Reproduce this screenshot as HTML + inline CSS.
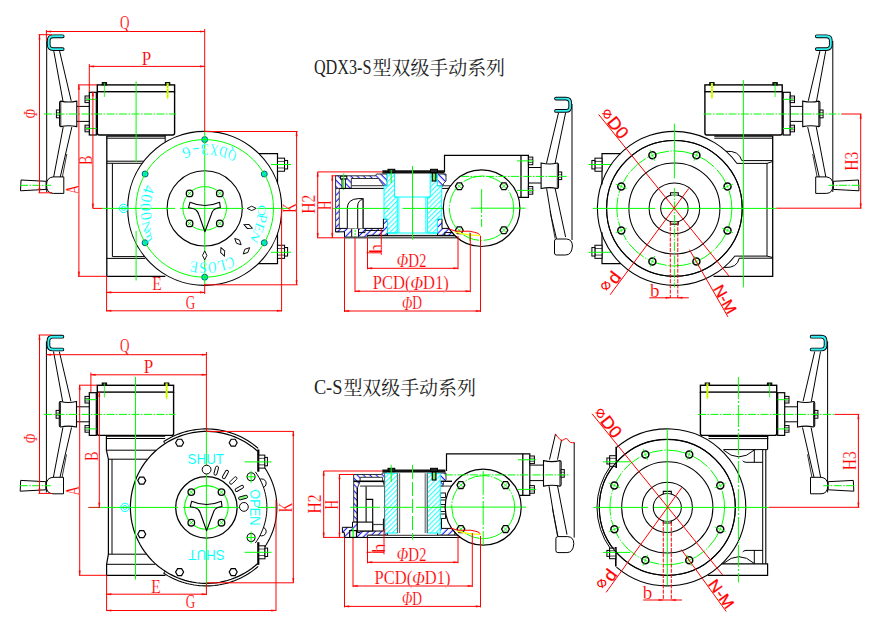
<!DOCTYPE html>
<html lang="zh"><head><meta charset="utf-8"><title>QDX3-S / C-S 型双级手动系列</title>
<style>html,body{margin:0;padding:0;background:#fff}svg{display:block}text{white-space:pre}</style></head>
<body><svg width="873" height="622" viewBox="0 0 873 622" fill="none" stroke-linecap="butt">
<rect x="0" y="0" width="873" height="622" fill="#fff"/>
<defs><pattern id="hb" width="4.5" height="8" patternUnits="userSpaceOnUse" patternTransform="rotate(45)"><rect width="4.5" height="8" fill="#fff"/><line x1="2.1" y1="-1" x2="2.1" y2="9" stroke="#0000ff" stroke-width="1"/></pattern><pattern id="hb2" width="4.5" height="8" patternUnits="userSpaceOnUse" patternTransform="rotate(-45)"><rect width="4.5" height="8" fill="#fff"/><line x1="2.1" y1="-1" x2="2.1" y2="9" stroke="#0000ff" stroke-width="1"/></pattern><pattern id="hc" width="3.4" height="8" patternUnits="userSpaceOnUse" patternTransform="rotate(45)"><rect width="3.4" height="8" fill="#fff"/><line x1="1.45" y1="-1" x2="1.45" y2="9" stroke="#00ffff" stroke-width="0.9"/></pattern></defs>
<polyline points="106.8,136.1 106.8,276.3 165.4,276.3" stroke="#000000" stroke-width="1.3" fill="none"/>
<line x1="106.8" y1="136.1" x2="165.2" y2="136.1" stroke="#000000" stroke-width="1.2"/>
<line x1="106.8" y1="138.2" x2="165.2" y2="138.2" stroke="#000000" stroke-width="1"/>
<line x1="165.2" y1="135" x2="165.2" y2="142" stroke="#000000" stroke-width="1"/>
<line x1="106.8" y1="161.2" x2="145" y2="161.2" stroke="#000000" stroke-width="1"/>
<line x1="106.8" y1="163.3" x2="143" y2="163.3" stroke="#000000" stroke-width="1"/>
<line x1="112.4" y1="163.3" x2="112.4" y2="256.6" stroke="#000000" stroke-width="1"/>
<line x1="112.4" y1="256.6" x2="144" y2="256.6" stroke="#000000" stroke-width="1"/>
<line x1="106.8" y1="258.4" x2="145" y2="258.4" stroke="#000000" stroke-width="1"/>
<polyline points="258,153.6 277.5,153.6 277.5,263.7 258,263.7" stroke="#000000" stroke-width="1.2" fill="none"/>
<rect x="277.5" y="158.15" width="7.07" height="13.1" rx="0" stroke="#000000" stroke-width="1" fill="#fff"/>
<rect x="284.57" y="160.45" width="3.03" height="8.5" rx="0" stroke="#000000" stroke-width="1" fill="#fff"/>
<line x1="277.5" y1="161.42" x2="284.57" y2="161.42" stroke="#000000" stroke-width="0.7"/>
<line x1="277.5" y1="167.97" x2="284.57" y2="167.97" stroke="#000000" stroke-width="0.7"/>
<rect x="277.5" y="245.25" width="7.07" height="13.1" rx="0" stroke="#000000" stroke-width="1" fill="#fff"/>
<rect x="284.57" y="247.55" width="3.03" height="8.5" rx="0" stroke="#000000" stroke-width="1" fill="#fff"/>
<line x1="277.5" y1="248.53" x2="284.57" y2="248.53" stroke="#000000" stroke-width="0.7"/>
<line x1="277.5" y1="255.08" x2="284.57" y2="255.08" stroke="#000000" stroke-width="0.7"/>
<line x1="271" y1="164.5" x2="291" y2="164.5" stroke="#00ff00" stroke-width="1"/>
<line x1="271" y1="252.3" x2="291" y2="252.3" stroke="#00ff00" stroke-width="1"/>
<line x1="46.7" y1="41" x2="46.7" y2="192" stroke="#000000" stroke-width="1"/>
<polyline points="53.8,51.1 63,101.3" stroke="#000000" stroke-width="1" fill="none"/>
<polyline points="59.6,51.1 71.2,100.8" stroke="#000000" stroke-width="1" fill="none"/>
<polyline points="63.2,127.1 53.6,177.3" stroke="#000000" stroke-width="1" fill="none"/>
<polyline points="71.8,127.1 60.2,177.3" stroke="#000000" stroke-width="1" fill="none"/>
<polyline points="66.8,154 62.3,177.3" stroke="#000000" stroke-width="0.8" fill="none"/>
<path d="M62.7,36.3 H53 Q48.7,36.3 48.7,40.8 V44.6 Q48.7,49.1 53,49.1 H62.7" stroke="#000000" stroke-width="3.7" fill="none" stroke-linecap="round"/>
<path d="M62.7,36.3 H53 Q48.7,36.3 48.7,40.8 V44.6 Q48.7,49.1 53,49.1 H62.7" stroke="#35f0f5" stroke-width="1.9" fill="none" stroke-linecap="round"/>
<path d="M59.6,102.5 Q59.6,101.3 60.8,101.1 Q68.3,103 76.8,101.1 V126.6 Q68.3,124.8 60.8,126.6 Q59.6,126.4 59.6,125.2 Z" stroke="#000000" stroke-width="1.1" fill="#fff"/>
<line x1="60.8" y1="102" x2="60.8" y2="126" stroke="#000000" stroke-width="0.8"/>
<rect x="56.4" y="110" width="3.2" height="7.8" rx="0" stroke="#000000" stroke-width="1" fill="#fff"/>
<line x1="56.4" y1="112.7" x2="59.6" y2="112.7" stroke="#000000" stroke-width="0.6"/>
<line x1="56.4" y1="115.3" x2="59.6" y2="115.3" stroke="#000000" stroke-width="0.6"/>
<line x1="76.8" y1="106.4" x2="89.3" y2="106.4" stroke="#000000" stroke-width="1"/>
<line x1="76.8" y1="121.4" x2="89.3" y2="121.4" stroke="#000000" stroke-width="1"/>
<path d="M63.8,176.9 H53.3 Q46.5,177.5 46.5,185 Q46.5,193.4 53.3,193.4 H63.8 Z" stroke="#000000" stroke-width="1" fill="#fff"/>
<polygon points="46.1,181.3 21,180 20.5,190.8 46.1,189.4" stroke="#000000" stroke-width="1" fill="#fff"/>
<line x1="20" y1="185.3" x2="51" y2="185.3" stroke="#00ff00" stroke-width="1" stroke-dasharray="8 1.5 1.5 1.5"/>
<rect x="89.3" y="92.3" width="7" height="42.7" rx="0" stroke="#000000" stroke-width="1.2" fill="#fff"/>
<rect x="85" y="96" width="4.3" height="6.6" rx="0" stroke="#000000" stroke-width="1" fill="#fff"/>
<line x1="85" y1="98" x2="89.3" y2="98" stroke="#000000" stroke-width="0.6"/>
<line x1="85" y1="100.6" x2="89.3" y2="100.6" stroke="#000000" stroke-width="0.6"/>
<line x1="86" y1="99.3" x2="100" y2="99.3" stroke="#00ff00" stroke-width="1"/>
<rect x="85" y="125.2" width="4.3" height="6.6" rx="0" stroke="#000000" stroke-width="1" fill="#fff"/>
<line x1="85" y1="127.2" x2="89.3" y2="127.2" stroke="#000000" stroke-width="0.6"/>
<line x1="85" y1="129.8" x2="89.3" y2="129.8" stroke="#000000" stroke-width="0.6"/>
<line x1="86" y1="128.5" x2="100" y2="128.5" stroke="#00ff00" stroke-width="1"/>
<path d="M97.3,91.7 V133 Q97.3,135 99.3,135 H172.6 Q174.6,135 174.6,133 V91.7" stroke="#000000" stroke-width="1.4" fill="#fff"/>
<rect x="97.3" y="84.9" width="77.3" height="6.8" rx="0" stroke="#000000" stroke-width="1.4" fill="#fff"/>
<rect x="102.2" y="82.6" width="4.4" height="2.3" rx="0" stroke="#000000" stroke-width="1" fill="#333"/>
<line x1="104.4" y1="83" x2="104.4" y2="97" stroke="#00ff00" stroke-width="0.8"/>
<rect x="165.4" y="82.6" width="4.4" height="2.3" rx="0" stroke="#000000" stroke-width="1" fill="#333"/>
<line x1="167.6" y1="83" x2="167.6" y2="97" stroke="#00ff00" stroke-width="0.8"/>
<line x1="167.6" y1="83" x2="167.6" y2="98" stroke="#ffff00" stroke-width="2"/>
<line x1="167.6" y1="83" x2="167.6" y2="99" stroke="#00ff00" stroke-width="0.5" stroke-dasharray="2 1"/>
<line x1="44" y1="114" x2="176" y2="114" stroke="#00ff00" stroke-width="1" stroke-dasharray="8 1.5 1.5 1.5"/>
<circle cx="204.7" cy="208.4" r="77" stroke="#000000" stroke-width="1.15" fill="#fff"/>
<line x1="136.1" y1="81.3" x2="136.1" y2="162" stroke="#00ff00" stroke-width="1"/>
<line x1="136.1" y1="231" x2="136.1" y2="280.5" stroke="#00ff00" stroke-width="1"/>
<circle cx="204.7" cy="139.6" r="3" stroke="#055" stroke-width="0.9" fill="#00e8f0"/>
<circle cx="264.28" cy="174" r="3" stroke="#055" stroke-width="0.9" fill="#00e8f0"/>
<circle cx="264.28" cy="242.8" r="3" stroke="#055" stroke-width="0.9" fill="#00e8f0"/>
<circle cx="204.7" cy="277.2" r="3" stroke="#055" stroke-width="0.9" fill="#00e8f0"/>
<circle cx="145.12" cy="242.8" r="3" stroke="#055" stroke-width="0.9" fill="#00e8f0"/>
<circle cx="145.12" cy="174" r="3" stroke="#055" stroke-width="0.9" fill="#00e8f0"/>
<circle cx="204.7" cy="208.4" r="68.8" stroke="#00ff00" stroke-width="1" fill="none"/>
<circle cx="204.7" cy="208.4" r="37.6" stroke="#000000" stroke-width="1.1" fill="none"/>
<circle cx="204.7" cy="208.4" r="21.8" stroke="#00ff00" stroke-width="1" fill="none"/>
<line x1="102.3" y1="208.4" x2="175" y2="208.4" stroke="#00ff00" stroke-width="1"/>
<line x1="180" y1="208.4" x2="244" y2="208.4" stroke="#00ff00" stroke-width="1"/>
<line x1="257" y1="208.4" x2="291" y2="208.4" stroke="#00ff00" stroke-width="1"/>
<line x1="204.7" y1="131.5" x2="204.7" y2="285" stroke="#00ff00" stroke-width="1"/>
<circle cx="189.6" cy="193.4" r="3.3" stroke="#000000" stroke-width="1.3" fill="#fff"/>
<line x1="187.6" y1="191.4" x2="191.6" y2="195.4" stroke="#00ff00" stroke-width="0.9"/>
<line x1="187.6" y1="195.4" x2="191.6" y2="191.4" stroke="#00ff00" stroke-width="0.9"/>
<circle cx="189.6" cy="223.4" r="3.3" stroke="#000000" stroke-width="1.3" fill="#fff"/>
<line x1="187.6" y1="221.4" x2="191.6" y2="225.4" stroke="#00ff00" stroke-width="0.9"/>
<line x1="187.6" y1="225.4" x2="191.6" y2="221.4" stroke="#00ff00" stroke-width="0.9"/>
<circle cx="219.8" cy="193.4" r="3.3" stroke="#000000" stroke-width="1.3" fill="#fff"/>
<line x1="217.8" y1="191.4" x2="221.8" y2="195.4" stroke="#00ff00" stroke-width="0.9"/>
<line x1="217.8" y1="195.4" x2="221.8" y2="191.4" stroke="#00ff00" stroke-width="0.9"/>
<circle cx="219.8" cy="223.4" r="3.3" stroke="#000000" stroke-width="1.3" fill="#fff"/>
<line x1="217.8" y1="221.4" x2="221.8" y2="225.4" stroke="#00ff00" stroke-width="0.9"/>
<line x1="217.8" y1="225.4" x2="221.8" y2="221.4" stroke="#00ff00" stroke-width="0.9"/>
<path d="M190,202.2 Q204.9,208.8 219.6,202.2 L220.3,207.5 Q214.5,208.5 213.2,210.5 Q212,212 211.3,214.5 L204.9,231.8 L198.8,214.5 Q198,212 196.5,210.5 Q195,208.8 188.5,207.8 Z" stroke="#000000" stroke-width="1.1" fill="none" stroke-linejoin="round"/>
<polygon points="-4.5,0 0,-2.2 4.5,0 0,2.2" transform="translate(251.7,208.4) rotate(0)" fill="#fff" stroke="#000" stroke-width="0.9"/>
<polygon points="-4.5,0 0,-2.2 4.5,0 0,2.2" transform="translate(248.12,226.39) rotate(22.5)" fill="#fff" stroke="#000" stroke-width="0.9"/>
<polygon points="-4.5,0 0,-2.2 4.5,0 0,2.2" transform="translate(237.93,241.63) rotate(45)" fill="#fff" stroke="#000" stroke-width="0.9"/>
<polygon points="-4.5,0 0,-2.2 4.5,0 0,2.2" transform="translate(222.69,251.82) rotate(67.5)" fill="#fff" stroke="#000" stroke-width="0.9"/>
<polygon points="-4.5,0 0,-2.2 4.5,0 0,2.2" transform="translate(204.7,255.4) rotate(90)" fill="#fff" stroke="#000" stroke-width="0.9"/>
<polygon points="-4.5,0 0,-2.2 4.5,0 0,2.2" transform="translate(246.4,250.84) rotate(135.5)" fill="#fff" stroke="#000" stroke-width="0.9"/>
<text font-family="'Liberation Serif','Noto Serif CJK SC',serif" font-size="16" fill="#00ffff" stroke="#fff" stroke-width="0.18"><tspan x="237.36" y="153.12" rotate="207" textLength="8" lengthAdjust="spacingAndGlyphs">Q</tspan><tspan x="228.31" y="148.69" rotate="198" textLength="8" lengthAdjust="spacingAndGlyphs">D</tspan><tspan x="218.68" y="145.73" rotate="189" textLength="8" lengthAdjust="spacingAndGlyphs">X</tspan><tspan x="208.7" y="144.32" rotate="180" textLength="8" lengthAdjust="spacingAndGlyphs">3</tspan><tspan x="198.63" y="144.48" rotate="171" textLength="8" lengthAdjust="spacingAndGlyphs">-</tspan><tspan x="188.7" y="146.22" rotate="162" textLength="8" lengthAdjust="spacingAndGlyphs">6</tspan></text>
<text font-family="'Liberation Serif','Noto Serif CJK SC',serif" font-size="16" fill="#00ffff" stroke="#fff" stroke-width="0.18"><tspan x="145.05" y="184.11" rotate="108.6" textLength="8" lengthAdjust="spacingAndGlyphs">4</tspan><tspan x="142.06" y="193.41" rotate="99.9" textLength="8" lengthAdjust="spacingAndGlyphs">0</tspan><tspan x="140.52" y="203.05" rotate="91.2" textLength="8" lengthAdjust="spacingAndGlyphs">0</tspan><tspan x="140.45" y="212.82" rotate="82.5" textLength="8" lengthAdjust="spacingAndGlyphs">0</tspan><tspan x="141.86" y="222.49" rotate="73.8" textLength="8" lengthAdjust="spacingAndGlyphs">N</tspan><tspan x="144.71" y="231.84" rotate="65.1" textLength="8" lengthAdjust="spacingAndGlyphs">m</tspan></text>
<text font-family="'Liberation Serif','Noto Serif CJK SC',serif" font-size="16" fill="#00ffff" stroke="#fff" stroke-width="0.18"><tspan x="257.95" y="204.77" rotate="90.4" textLength="8" lengthAdjust="spacingAndGlyphs">O</tspan><tspan x="257.86" y="213.15" rotate="99.4" textLength="8" lengthAdjust="spacingAndGlyphs">P</tspan><tspan x="256.46" y="221.4" rotate="108.4" textLength="8" lengthAdjust="spacingAndGlyphs">E</tspan><tspan x="253.79" y="229.34" rotate="117.4" textLength="8" lengthAdjust="spacingAndGlyphs">N</tspan></text>
<text font-family="'Liberation Serif','Noto Serif CJK SC',serif" font-size="16" fill="#00ffff" stroke="#fff" stroke-width="0.18"><tspan x="231.9" y="255.47" rotate="154.2" textLength="8" lengthAdjust="spacingAndGlyphs">C</tspan><tspan x="224.11" y="259.18" rotate="163.3" textLength="8" lengthAdjust="spacingAndGlyphs">L</tspan><tspan x="215.84" y="261.61" rotate="172.4" textLength="8" lengthAdjust="spacingAndGlyphs">O</tspan><tspan x="207.28" y="262.71" rotate="181.5" textLength="8" lengthAdjust="spacingAndGlyphs">S</tspan><tspan x="198.66" y="262.43" rotate="190.6" textLength="8" lengthAdjust="spacingAndGlyphs">E</tspan></text>
<circle cx="123.6" cy="208.4" r="4.2" stroke="#00ffff" stroke-width="1" fill="none"/>
<circle cx="123.6" cy="208.4" r="2" stroke="#00ffff" stroke-width="1" fill="none"/>
<line x1="120" y1="208.4" x2="128" y2="208.4" stroke="#00ff00" stroke-width="1"/>
<line x1="46.4" y1="31.5" x2="204.7" y2="31.5" stroke="#ff0000" stroke-width="1"/>
<polygon points="46.4,31.5 51,30.7 51,32.3" fill="#ff0000" stroke="#ff0000" stroke-width="0.3"/>
<polygon points="204.7,31.5 200.1,32.3 200.1,30.7" fill="#ff0000" stroke="#ff0000" stroke-width="0.3"/>
<line x1="204.7" y1="29" x2="204.7" y2="131.5" stroke="#ff0000" stroke-width="1"/>
<line x1="46.4" y1="30" x2="46.4" y2="41" stroke="#ff0000" stroke-width="1"/>
<text transform="translate(124.8,22.5) rotate(0)" x="-4.75" y="0" textLength="9.5" lengthAdjust="spacingAndGlyphs" font-family="'Liberation Serif','Noto Serif CJK SC',serif" font-size="18.5" fill="#ff0000" dominant-baseline="central" font-weight="normal" font-style="normal" stroke="#fff" stroke-width="0.18">Q</text>
<line x1="89.3" y1="66.4" x2="204.7" y2="66.4" stroke="#ff0000" stroke-width="1"/>
<polygon points="89.3,66.4 93.9,65.6 93.9,67.2" fill="#ff0000" stroke="#ff0000" stroke-width="0.3"/>
<polygon points="204.7,66.4 200.1,67.2 200.1,65.6" fill="#ff0000" stroke="#ff0000" stroke-width="0.3"/>
<line x1="89.3" y1="64" x2="89.3" y2="92" stroke="#ff0000" stroke-width="1"/>
<text transform="translate(146.5,58.5) rotate(0)" x="-4.75" y="0" textLength="9.5" lengthAdjust="spacingAndGlyphs" font-family="'Liberation Serif','Noto Serif CJK SC',serif" font-size="18.5" fill="#ff0000" dominant-baseline="central" font-weight="normal" font-style="normal" stroke="#fff" stroke-width="0.18">P</text>
<line x1="39.5" y1="34.7" x2="39.5" y2="192.8" stroke="#ff0000" stroke-width="1"/>
<polygon points="39.5,34.7 40.3,39.3 38.7,39.3" fill="#ff0000" stroke="#ff0000" stroke-width="0.3"/>
<polygon points="39.5,192.8 38.7,188.2 40.3,188.2" fill="#ff0000" stroke="#ff0000" stroke-width="0.3"/>
<line x1="38.5" y1="34.7" x2="52" y2="34.7" stroke="#ff0000" stroke-width="1"/>
<line x1="38.5" y1="192.8" x2="52" y2="192.8" stroke="#ff0000" stroke-width="1"/>
<text transform="translate(31,113.7) rotate(-90)" x="-4.75" y="0" textLength="9.5" lengthAdjust="spacingAndGlyphs" font-family="'Liberation Serif','Noto Serif CJK SC',serif" font-size="18.5" fill="#ff0000" dominant-baseline="central" font-weight="normal" font-style="italic" stroke="#fff" stroke-width="0.18">Φ</text>
<line x1="78.9" y1="84.9" x2="78.9" y2="276.3" stroke="#ff0000" stroke-width="1"/>
<polygon points="78.9,84.9 79.7,89.5 78.1,89.5" fill="#ff0000" stroke="#ff0000" stroke-width="0.3"/>
<polygon points="78.9,276.3 78.1,271.7 79.7,271.7" fill="#ff0000" stroke="#ff0000" stroke-width="0.3"/>
<line x1="78" y1="84.9" x2="97" y2="84.9" stroke="#ff0000" stroke-width="1"/>
<line x1="78" y1="276.3" x2="106.6" y2="276.3" stroke="#ff0000" stroke-width="1"/>
<text transform="translate(72.5,189.4) rotate(-90)" x="-4.75" y="0" textLength="9.5" lengthAdjust="spacingAndGlyphs" font-family="'Liberation Serif','Noto Serif CJK SC',serif" font-size="18.5" fill="#ff0000" dominant-baseline="central" font-weight="normal" font-style="normal" stroke="#fff" stroke-width="0.18">A</text>
<line x1="92.9" y1="91.7" x2="92.9" y2="208.4" stroke="#ff0000" stroke-width="1"/>
<polygon points="92.9,91.7 93.7,96.3 92.1,96.3" fill="#ff0000" stroke="#ff0000" stroke-width="0.3"/>
<polygon points="92.9,208.4 92.1,203.8 93.7,203.8" fill="#ff0000" stroke="#ff0000" stroke-width="0.3"/>
<line x1="92.9" y1="208.4" x2="102.3" y2="208.4" stroke="#ff0000" stroke-width="1"/>
<text transform="translate(85.5,160.2) rotate(-90)" x="-4.75" y="0" textLength="9.5" lengthAdjust="spacingAndGlyphs" font-family="'Liberation Serif','Noto Serif CJK SC',serif" font-size="18.5" fill="#ff0000" dominant-baseline="central" font-weight="normal" font-style="normal" stroke="#fff" stroke-width="0.18">B</text>
<line x1="106.6" y1="276.3" x2="106.6" y2="311.5" stroke="#ff0000" stroke-width="1"/>
<line x1="106.6" y1="292.4" x2="204.7" y2="292.4" stroke="#ff0000" stroke-width="1"/>
<polygon points="106.6,292.4 111.2,291.6 111.2,293.2" fill="#ff0000" stroke="#ff0000" stroke-width="0.3"/>
<polygon points="204.7,292.4 200.1,293.2 200.1,291.6" fill="#ff0000" stroke="#ff0000" stroke-width="0.3"/>
<line x1="204.7" y1="284" x2="204.7" y2="294" stroke="#ff0000" stroke-width="1"/>
<text transform="translate(157,284) rotate(0)" x="-4.75" y="0" textLength="9.5" lengthAdjust="spacingAndGlyphs" font-family="'Liberation Serif','Noto Serif CJK SC',serif" font-size="18.5" fill="#ff0000" dominant-baseline="central" font-weight="normal" font-style="normal" stroke="#fff" stroke-width="0.18">E</text>
<line x1="106.6" y1="310.8" x2="281.6" y2="310.8" stroke="#ff0000" stroke-width="1"/>
<polygon points="106.6,310.8 111.2,310 111.2,311.6" fill="#ff0000" stroke="#ff0000" stroke-width="0.3"/>
<polygon points="281.6,310.8 277,311.6 277,310" fill="#ff0000" stroke="#ff0000" stroke-width="0.3"/>
<line x1="281.6" y1="208" x2="281.6" y2="311.5" stroke="#ff0000" stroke-width="1"/>
<text transform="translate(190.5,302.5) rotate(0)" x="-4.75" y="0" textLength="9.5" lengthAdjust="spacingAndGlyphs" font-family="'Liberation Serif','Noto Serif CJK SC',serif" font-size="18.5" fill="#ff0000" dominant-baseline="central" font-weight="normal" font-style="normal" stroke="#fff" stroke-width="0.18">G</text>
<line x1="204.7" y1="131.5" x2="297.6" y2="131.5" stroke="#ff0000" stroke-width="1"/>
<line x1="296.6" y1="131.5" x2="296.6" y2="284.8" stroke="#ff0000" stroke-width="1"/>
<polygon points="296.6,131.5 297.4,136.1 295.8,136.1" fill="#ff0000" stroke="#ff0000" stroke-width="0.3"/>
<polygon points="296.6,284.8 295.8,280.2 297.4,280.2" fill="#ff0000" stroke="#ff0000" stroke-width="0.3"/>
<line x1="204.7" y1="284.8" x2="297.6" y2="284.8" stroke="#ff0000" stroke-width="1"/>
<text transform="translate(289.6,208) rotate(-90)" x="-4.75" y="0" textLength="9.5" lengthAdjust="spacingAndGlyphs" font-family="'Liberation Serif','Noto Serif CJK SC',serif" font-size="18.5" fill="#ff0000" dominant-baseline="central" font-weight="normal" font-style="normal" stroke="#fff" stroke-width="0.18">K</text>
<line x1="106.4" y1="436.1" x2="165.2" y2="436.1" stroke="#000000" stroke-width="1.3"/>
<line x1="106.4" y1="438.5" x2="165.2" y2="438.5" stroke="#000000" stroke-width="1"/>
<polyline points="106.4,436.1 106.4,450.2 108.4,459.2 108.4,554.2 106.6,564.3 106.6,575.3 165.4,575.3" stroke="#000000" stroke-width="1.2" fill="none"/>
<line x1="106.4" y1="450.2" x2="156" y2="450.2" stroke="#000000" stroke-width="1"/>
<line x1="108.4" y1="459.2" x2="147" y2="459.2" stroke="#000000" stroke-width="1"/>
<line x1="112" y1="459.2" x2="112" y2="554.2" stroke="#000000" stroke-width="1"/>
<line x1="108.4" y1="554.2" x2="147" y2="554.2" stroke="#000000" stroke-width="1"/>
<line x1="106.6" y1="564.3" x2="155" y2="564.3" stroke="#000000" stroke-width="1"/>
<line x1="46.4" y1="341.4" x2="46.4" y2="492.4" stroke="#000000" stroke-width="1"/>
<polyline points="53.5,351.5 62.7,401.7" stroke="#000000" stroke-width="1" fill="none"/>
<polyline points="59.3,351.5 70.9,401.2" stroke="#000000" stroke-width="1" fill="none"/>
<polyline points="62.9,427.5 53.3,477.7" stroke="#000000" stroke-width="1" fill="none"/>
<polyline points="71.5,427.5 59.9,477.7" stroke="#000000" stroke-width="1" fill="none"/>
<polyline points="66.5,454.4 62,477.7" stroke="#000000" stroke-width="0.8" fill="none"/>
<path d="M62.4,336.7 H52.7 Q48.4,336.7 48.4,341.2 V345 Q48.4,349.5 52.7,349.5 H62.4" stroke="#000000" stroke-width="3.7" fill="none" stroke-linecap="round"/>
<path d="M62.4,336.7 H52.7 Q48.4,336.7 48.4,341.2 V345 Q48.4,349.5 52.7,349.5 H62.4" stroke="#35f0f5" stroke-width="1.9" fill="none" stroke-linecap="round"/>
<path d="M59.3,402.9 Q59.3,401.7 60.5,401.5 Q68,403.4 76.5,401.5 V427 Q68,425.2 60.5,427 Q59.3,426.8 59.3,425.6 Z" stroke="#000000" stroke-width="1.1" fill="#fff"/>
<line x1="60.5" y1="402.4" x2="60.5" y2="426.4" stroke="#000000" stroke-width="0.8"/>
<rect x="56.1" y="410.4" width="3.2" height="7.8" rx="0" stroke="#000000" stroke-width="1" fill="#fff"/>
<line x1="56.1" y1="413.1" x2="59.3" y2="413.1" stroke="#000000" stroke-width="0.6"/>
<line x1="56.1" y1="415.7" x2="59.3" y2="415.7" stroke="#000000" stroke-width="0.6"/>
<line x1="76.5" y1="406.8" x2="89" y2="406.8" stroke="#000000" stroke-width="1"/>
<line x1="76.5" y1="421.8" x2="89" y2="421.8" stroke="#000000" stroke-width="1"/>
<path d="M63.5,477.3 H53 Q46.2,477.9 46.2,485.4 Q46.2,493.8 53,493.8 H63.5 Z" stroke="#000000" stroke-width="1" fill="#fff"/>
<polygon points="45.8,481.7 20.7,480.4 20.2,491.2 45.8,489.8" stroke="#000000" stroke-width="1" fill="#fff"/>
<line x1="19.7" y1="485.7" x2="50.7" y2="485.7" stroke="#00ff00" stroke-width="1" stroke-dasharray="8 1.5 1.5 1.5"/>
<g transform="translate(-1,0)">
</g>
<rect x="89.3" y="392.7" width="7" height="42.7" rx="0" stroke="#000000" stroke-width="1.2" fill="#fff"/>
<rect x="85" y="396.4" width="4.3" height="6.6" rx="0" stroke="#000000" stroke-width="1" fill="#fff"/>
<line x1="85" y1="398.4" x2="89.3" y2="398.4" stroke="#000000" stroke-width="0.6"/>
<line x1="85" y1="401" x2="89.3" y2="401" stroke="#000000" stroke-width="0.6"/>
<line x1="86" y1="399.7" x2="100" y2="399.7" stroke="#00ff00" stroke-width="1"/>
<rect x="85" y="425.6" width="4.3" height="6.6" rx="0" stroke="#000000" stroke-width="1" fill="#fff"/>
<line x1="85" y1="427.6" x2="89.3" y2="427.6" stroke="#000000" stroke-width="0.6"/>
<line x1="85" y1="430.2" x2="89.3" y2="430.2" stroke="#000000" stroke-width="0.6"/>
<line x1="86" y1="428.9" x2="100" y2="428.9" stroke="#00ff00" stroke-width="1"/>
<path d="M97.3,392.1 V433.4 Q97.3,435.4 99.3,435.4 H171.6 Q173.6,435.4 173.6,433.4 V392.1" stroke="#000000" stroke-width="1.4" fill="#fff"/>
<rect x="97.3" y="385.3" width="76.3" height="6.8" rx="0" stroke="#000000" stroke-width="1.4" fill="#fff"/>
<rect x="102.2" y="383" width="4.4" height="2.3" rx="0" stroke="#000000" stroke-width="1" fill="#333"/>
<line x1="104.4" y1="383.4" x2="104.4" y2="397.4" stroke="#00ff00" stroke-width="0.8"/>
<rect x="164.4" y="383" width="4.4" height="2.3" rx="0" stroke="#000000" stroke-width="1" fill="#333"/>
<line x1="166.6" y1="383.4" x2="166.6" y2="397.4" stroke="#00ff00" stroke-width="0.8"/>
<line x1="166.6" y1="383.4" x2="166.6" y2="398.4" stroke="#ffff00" stroke-width="2"/>
<line x1="166.6" y1="383.4" x2="166.6" y2="399.4" stroke="#00ff00" stroke-width="0.5" stroke-dasharray="2 1"/>
<line x1="44" y1="414.4" x2="175.5" y2="414.4" stroke="#00ff00" stroke-width="1" stroke-dasharray="8 1.5 1.5 1.5"/>
<polygon points="258.23,451.82 261.46,455.01 264.49,458.4 267.32,461.95 269.92,465.67 272.3,469.54 274.44,473.55 276.35,477.67 278,481.91 279.39,486.23 280.53,490.63 281.4,495.09 282,499.59 282.33,504.12 282.39,508.66 282.18,513.2 281.7,517.71 280.95,522.19 279.93,526.62 278.65,530.98 277.11,535.25 275.32,539.43 273.28,543.49 271.01,547.42 268.5,551.21 265.77,554.84 262.83,558.3 259.69,561.58 256.36,564.67 252.85,567.55 249.17,570.22 245.34,572.66 241.38,574.87 237.28,576.84 233.08,578.56 228.78,580.03 224.4,581.24 219.96,582.18 215.46,582.86 210.94,583.26 206.4,583.4 201.86,583.26 197.34,582.86 192.84,582.18 188.4,581.24 184.02,580.03 179.72,578.56 175.52,576.84 171.42,574.87 167.46,572.66 163.63,570.22 159.95,567.55 156.44,564.67 153.11,561.58 149.97,558.3 147.03,554.84 144.3,551.21 141.79,547.42 139.52,543.49 137.48,539.43 135.69,535.25 134.15,530.98 132.87,526.62 131.85,522.19 131.1,517.71 130.62,513.2 130.41,508.66 130.47,504.12 130.8,499.59 131.4,495.09 132.27,490.63 133.41,486.23 134.8,481.91 136.45,477.67 138.36,473.55 140.5,469.54 142.88,465.67 145.48,461.95 148.31,458.4 151.34,455.01 154.57,451.82" stroke="none" stroke-width="0" fill="#fff"/>
<polyline points="257.74,563.43 254.8,566 251.72,568.41 248.53,570.65 245.23,572.73 241.82,574.64 238.32,576.37 234.73,577.92 231.07,579.28 227.35,580.46 223.57,581.44 219.74,582.22 215.88,582.81 212,583.19 208.09,583.38 204.19,583.37 200.29,583.15 196.41,582.74 192.55,582.13 188.73,581.32 184.96,580.31 181.24,579.11 177.59,577.73 174.01,576.15 170.53,574.4 167.13,572.47 163.84,570.37 160.66,568.1 157.6,565.67 154.68,563.08 151.88,560.35 149.24,557.48 146.74,554.48 144.4,551.35 142.22,548.11 140.22,544.76 138.38,541.31 136.73,537.77 135.26,534.15 133.98,530.46 132.9,526.71 132,522.91 131.3,519.07 130.8,515.2 130.5,511.3 130.4,507.4 130.5,503.5 130.8,499.6 131.3,495.73 132,491.89 132.9,488.09 133.98,484.34 135.26,480.65 136.73,477.03 138.38,473.49 140.22,470.04 142.22,466.69 144.4,463.45 146.74,460.32 149.24,457.32 151.88,454.45 154.68,451.72 157.6,449.13 160.66,446.7 163.84,444.43 167.13,442.33 170.53,440.4 174.01,438.65 177.59,437.07 181.24,435.69 184.96,434.49 188.73,433.48 192.55,432.67 196.41,432.06 200.29,431.65 204.19,431.43 208.09,431.42 212,431.61 215.88,431.99 219.74,432.58 223.57,433.36 227.35,434.34 231.07,435.52 234.73,436.88 238.32,438.43 241.82,440.16 245.23,442.07 248.53,444.15 251.72,446.39 254.8,448.8 257.74,451.37" stroke="#000000" stroke-width="1.2" fill="none"/>
<polyline points="163.65,441.56 165.8,440.21 168,438.93 170.24,437.72 172.52,436.59 174.83,435.53 177.18,434.54 179.55,433.63 181.96,432.8 184.39,432.05 186.84,431.37 189.32,430.78 191.81,430.27 194.32,429.84 196.84,429.48 199.37,429.22 201.91,429.03 204.45,428.92 207,428.9 209.54,428.96 212.08,429.11 214.62,429.33 217.14,429.64 219.66,430.03 222.16,430.5 224.64,431.05 227.11,431.68 229.55,432.39 231.97,433.18 234.36,434.05 236.73,434.99 239.06,436.01 241.35,437.11 243.61,438.28 245.83,439.52 248.01,440.84 250.15,442.22 252.24,443.67 254.28,445.19 256.27,446.78 258.21,448.43" stroke="#000000" stroke-width="1.1" fill="none"/>
<polyline points="258.21,566.37 256.27,568.02 254.28,569.61 252.24,571.13 250.15,572.58 248.01,573.96 245.83,575.28 243.61,576.52 241.35,577.69 239.06,578.79 236.73,579.81 234.36,580.75 231.97,581.62 229.55,582.41 227.11,583.12 224.64,583.75 222.16,584.3 219.66,584.77 217.14,585.16 214.62,585.47 212.08,585.69 209.54,585.84 207,585.9 204.45,585.88 201.91,585.77 199.37,585.58 196.84,585.32 194.32,584.96 191.81,584.53 189.32,584.02 186.84,583.43 184.39,582.75 181.96,582 179.55,581.17 177.18,580.26 174.83,579.27 172.52,578.21 170.24,577.08 168,575.87 165.8,574.59 163.65,573.24" stroke="#000000" stroke-width="1.1" fill="none"/>
<polyline points="163.65,441.56 165.01,443.66" stroke="#000000" stroke-width="1" fill="none"/>
<polyline points="163.65,573.24 165.01,571.14" stroke="#000000" stroke-width="1" fill="none"/>
<line x1="258.3" y1="449.5" x2="258.3" y2="471.7" stroke="#000000" stroke-width="2.2"/>
<line x1="258.3" y1="542.2" x2="258.3" y2="564.8" stroke="#000000" stroke-width="2.2"/>
<rect x="258.8" y="455.1" width="6.02" height="13" rx="0" stroke="#000000" stroke-width="1" fill="#fff"/>
<rect x="264.82" y="457.4" width="2.58" height="8.4" rx="0" stroke="#000000" stroke-width="1" fill="#fff"/>
<line x1="258.8" y1="458.35" x2="264.82" y2="458.35" stroke="#000000" stroke-width="0.7"/>
<line x1="258.8" y1="464.85" x2="264.82" y2="464.85" stroke="#000000" stroke-width="0.7"/>
<rect x="258.8" y="545.8" width="6.16" height="13" rx="0" stroke="#000000" stroke-width="1" fill="#fff"/>
<rect x="264.96" y="548.1" width="2.64" height="8.4" rx="0" stroke="#000000" stroke-width="1" fill="#fff"/>
<line x1="258.8" y1="549.05" x2="264.96" y2="549.05" stroke="#000000" stroke-width="0.7"/>
<line x1="258.8" y1="555.55" x2="264.96" y2="555.55" stroke="#000000" stroke-width="0.7"/>
<line x1="244.5" y1="461.9" x2="271.5" y2="461.9" stroke="#00ff00" stroke-width="1"/>
<line x1="244.5" y1="552.3" x2="271.5" y2="552.3" stroke="#00ff00" stroke-width="1"/>
<polyline points="264.85,467.98 266.36,470.32 267.78,472.72 269.1,475.17 270.33,477.68 271.45,480.23 272.48,482.83 273.4,485.46 274.21,488.13 274.92,490.82 275.53,493.55 276.02,496.29 276.4,499.05 276.68,501.83 276.84,504.61 276.9,507.4 276.84,510.19 276.68,512.97 276.4,515.75 276.02,518.51 275.53,521.25 274.92,523.98 274.21,526.67 273.4,529.34 272.48,531.97 271.45,534.57 270.33,537.12 269.1,539.63 267.78,542.08 266.36,544.48 264.85,546.82" stroke="#000000" stroke-width="1.1" fill="none"/>
<polyline points="255.35,471.84 257.14,474.45 258.79,477.15 260.31,479.93 261.67,482.79 262.88,485.72 263.94,488.7 264.84,491.74 265.58,494.82 266.16,497.94 266.57,501.08 266.82,504.23 266.9,507.4 266.82,510.57 266.57,513.72 266.16,516.86 265.58,519.98 264.84,523.06 263.94,526.1 262.88,529.08 261.67,532.01 260.31,534.87 258.79,537.65 257.14,540.35 255.35,542.96" stroke="#000000" stroke-width="1" fill="none"/>
<path d="M259.97,479.28 A4.4,4.4 0 0 1 263.5,487.4" stroke="#000000" stroke-width="1" fill="none"/>
<path d="M263.5,527.4 A4.4,4.4 0 0 1 259.97,535.52" stroke="#000000" stroke-width="1" fill="none"/>
<line x1="135.5" y1="377" x2="135.5" y2="462" stroke="#00ff00" stroke-width="1"/>
<line x1="135.5" y1="462" x2="135.5" y2="579.5" stroke="#00ff00" stroke-width="1"/>
<polygon points="237.19,442.73 235.19,446.19 231.19,446.19 229.19,442.73 231.19,439.26 235.19,439.26" stroke="#000000" stroke-width="1.2" fill="#fff"/>
<polygon points="183.61,442.73 181.61,446.19 177.61,446.19 175.61,442.73 177.61,439.26 181.61,439.26" stroke="#000000" stroke-width="1.2" fill="#fff"/>
<polygon points="145.73,480.61 143.73,484.08 139.73,484.08 137.73,480.61 139.73,477.15 143.73,477.15" stroke="#000000" stroke-width="1.2" fill="#fff"/>
<polygon points="145.73,534.19 143.73,537.65 139.73,537.65 137.73,534.19 139.73,530.72 143.73,530.72" stroke="#000000" stroke-width="1.2" fill="#fff"/>
<polygon points="183.61,572.07 181.61,575.54 177.61,575.54 175.61,572.07 177.61,568.61 181.61,568.61" stroke="#000000" stroke-width="1.2" fill="#fff"/>
<polygon points="237.19,572.07 235.19,575.54 231.19,575.54 229.19,572.07 231.19,568.61 235.19,568.61" stroke="#000000" stroke-width="1.2" fill="#fff"/>
<circle cx="206.4" cy="507.4" r="30.7" stroke="#000000" stroke-width="1.3" fill="none"/>
<circle cx="206.4" cy="507.4" r="21.8" stroke="#00ff00" stroke-width="1.1" fill="none"/>
<line x1="100.3" y1="507.4" x2="178" y2="507.4" stroke="#00ff00" stroke-width="1"/>
<line x1="183" y1="507.4" x2="245" y2="507.4" stroke="#00ff00" stroke-width="1"/>
<line x1="258" y1="507.4" x2="276" y2="507.4" stroke="#00ff00" stroke-width="1"/>
<line x1="206.4" y1="429.5" x2="206.4" y2="589" stroke="#00ff00" stroke-width="1"/>
<line x1="206.4" y1="584" x2="206.4" y2="595" stroke="#ff0000" stroke-width="1"/>
<circle cx="191.3" cy="492.1" r="3.3" stroke="#000000" stroke-width="1.3" fill="#fff"/>
<line x1="189.3" y1="490.1" x2="193.3" y2="494.1" stroke="#00ff00" stroke-width="0.9"/>
<line x1="189.3" y1="494.1" x2="193.3" y2="490.1" stroke="#00ff00" stroke-width="0.9"/>
<circle cx="191.3" cy="522.7" r="3.3" stroke="#000000" stroke-width="1.3" fill="#fff"/>
<line x1="189.3" y1="520.7" x2="193.3" y2="524.7" stroke="#00ff00" stroke-width="0.9"/>
<line x1="189.3" y1="524.7" x2="193.3" y2="520.7" stroke="#00ff00" stroke-width="0.9"/>
<circle cx="221.5" cy="492.1" r="3.3" stroke="#000000" stroke-width="1.3" fill="#fff"/>
<line x1="219.5" y1="490.1" x2="223.5" y2="494.1" stroke="#00ff00" stroke-width="0.9"/>
<line x1="219.5" y1="494.1" x2="223.5" y2="490.1" stroke="#00ff00" stroke-width="0.9"/>
<circle cx="221.5" cy="522.7" r="3.3" stroke="#000000" stroke-width="1.3" fill="#fff"/>
<line x1="219.5" y1="520.7" x2="223.5" y2="524.7" stroke="#00ff00" stroke-width="0.9"/>
<line x1="219.5" y1="524.7" x2="223.5" y2="520.7" stroke="#00ff00" stroke-width="0.9"/>
<path d="M191.7,501.2 Q206.6,507.8 221.3,501.2 L222,506.5 Q216.2,507.5 214.9,509.5 Q213.7,511 213,513.5 L206.6,530.8 L200.5,513.5 Q199.7,511 198.2,509.5 Q196.7,507.8 190.2,506.8 Z" stroke="#000000" stroke-width="1.1" fill="none" stroke-linejoin="round"/>
<circle cx="206.6" cy="469.6" r="4.4" stroke="#000000" stroke-width="1" fill="#fff"/>
<circle cx="243.9" cy="506.9" r="4.4" stroke="#000000" stroke-width="1" fill="#fff"/>
<rect x="-1.5" y="-4.6" width="3" height="9.2" rx="1.5" transform="translate(216.24,470.69) rotate(15)" fill="#fff" stroke="#000" stroke-width="0.9"/>
<rect x="-1.5" y="-4.6" width="3" height="9.2" rx="1.5" transform="translate(225.4,474.49) rotate(30)" fill="#fff" stroke="#000" stroke-width="0.9"/>
<rect x="-1.5" y="-4.6" width="3" height="9.2" rx="1.5" transform="translate(233.27,480.53) rotate(45)" fill="#fff" stroke="#000" stroke-width="0.9"/>
<rect x="-1.5" y="-4.6" width="3" height="9.2" rx="1.5" transform="translate(239.31,488.4) rotate(60)" fill="#fff" stroke="#000" stroke-width="0.9"/>
<rect x="-1.5" y="-4.6" width="3" height="9.2" rx="1.5" transform="translate(243.11,497.56) rotate(75)" fill="#8f8" stroke="#000" stroke-width="0.9"/>
<circle cx="251.1" cy="476.8" r="4" stroke="#000000" stroke-width="1.1" fill="#fff"/>
<line x1="251.1" y1="470.8" x2="251.1" y2="482.8" stroke="#00ff00" stroke-width="1"/>
<line x1="246" y1="476.8" x2="256" y2="476.8" stroke="#00ff00" stroke-width="1"/>
<circle cx="251.1" cy="537.5" r="4" stroke="#000000" stroke-width="1.1" fill="#fff"/>
<line x1="251.1" y1="531.5" x2="251.1" y2="543.5" stroke="#00ff00" stroke-width="1"/>
<line x1="246" y1="537.5" x2="256" y2="537.5" stroke="#00ff00" stroke-width="1"/>
<text transform="translate(205.8,458) rotate(0)" x="-18.25" y="0" textLength="36.5" lengthAdjust="spacingAndGlyphs" font-family="'Liberation Sans','Noto Sans CJK SC',sans-serif" font-size="15" fill="#00ffff" dominant-baseline="central" font-weight="normal" font-style="normal" stroke="#fff" stroke-width="0.1">SHUT</text>
<text transform="translate(206.5,555.6) rotate(180)" x="-18.25" y="0" textLength="36.5" lengthAdjust="spacingAndGlyphs" font-family="'Liberation Sans','Noto Sans CJK SC',sans-serif" font-size="15" fill="#00ffff" dominant-baseline="central" font-weight="normal" font-style="normal" stroke="#fff" stroke-width="0.1">SHUT</text>
<text transform="translate(255.3,507.4) rotate(90)" x="-18.25" y="0" textLength="36.5" lengthAdjust="spacingAndGlyphs" font-family="'Liberation Sans','Noto Sans CJK SC',sans-serif" font-size="15" fill="#00ffff" dominant-baseline="central" font-weight="normal" font-style="normal" stroke="#fff" stroke-width="0.1">OPEN</text>
<circle cx="125" cy="507.4" r="4.2" stroke="#00ffff" stroke-width="1" fill="none"/>
<circle cx="125" cy="507.4" r="2" stroke="#00ffff" stroke-width="1" fill="none"/>
<line x1="121" y1="507.4" x2="129" y2="507.4" stroke="#00ff00" stroke-width="1"/>
<line x1="46.5" y1="354.7" x2="206.4" y2="354.7" stroke="#ff0000" stroke-width="1"/>
<polygon points="46.5,354.7 51.1,353.9 51.1,355.5" fill="#ff0000" stroke="#ff0000" stroke-width="0.3"/>
<polygon points="206.4,354.7 201.8,355.5 201.8,353.9" fill="#ff0000" stroke="#ff0000" stroke-width="0.3"/>
<line x1="206.4" y1="352" x2="206.4" y2="431.4" stroke="#ff0000" stroke-width="1"/>
<text transform="translate(124.8,345.5) rotate(0)" x="-4.75" y="0" textLength="9.5" lengthAdjust="spacingAndGlyphs" font-family="'Liberation Serif','Noto Serif CJK SC',serif" font-size="18.5" fill="#ff0000" dominant-baseline="central" font-weight="normal" font-style="normal" stroke="#fff" stroke-width="0.18">Q</text>
<line x1="90.9" y1="374.8" x2="206.4" y2="374.8" stroke="#ff0000" stroke-width="1"/>
<polygon points="90.9,374.8 95.5,374 95.5,375.6" fill="#ff0000" stroke="#ff0000" stroke-width="0.3"/>
<polygon points="206.4,374.8 201.8,375.6 201.8,374" fill="#ff0000" stroke="#ff0000" stroke-width="0.3"/>
<line x1="90.9" y1="372.5" x2="90.9" y2="392" stroke="#ff0000" stroke-width="1"/>
<text transform="translate(148.5,366.5) rotate(0)" x="-4.75" y="0" textLength="9.5" lengthAdjust="spacingAndGlyphs" font-family="'Liberation Serif','Noto Serif CJK SC',serif" font-size="18.5" fill="#ff0000" dominant-baseline="central" font-weight="normal" font-style="normal" stroke="#fff" stroke-width="0.18">P</text>
<line x1="39.5" y1="335" x2="39.5" y2="493.4" stroke="#ff0000" stroke-width="1"/>
<polygon points="39.5,335 40.3,339.6 38.7,339.6" fill="#ff0000" stroke="#ff0000" stroke-width="0.3"/>
<polygon points="39.5,493.4 38.7,488.8 40.3,488.8" fill="#ff0000" stroke="#ff0000" stroke-width="0.3"/>
<line x1="38.5" y1="335" x2="52" y2="335" stroke="#ff0000" stroke-width="1"/>
<line x1="38.5" y1="493.4" x2="52" y2="493.4" stroke="#ff0000" stroke-width="1"/>
<text transform="translate(31,438.6) rotate(-90)" x="-4.75" y="0" textLength="9.5" lengthAdjust="spacingAndGlyphs" font-family="'Liberation Serif','Noto Serif CJK SC',serif" font-size="18.5" fill="#ff0000" dominant-baseline="central" font-weight="normal" font-style="italic" stroke="#fff" stroke-width="0.18">Φ</text>
<line x1="79.7" y1="385.2" x2="79.7" y2="575.3" stroke="#ff0000" stroke-width="1"/>
<polygon points="79.7,385.2 80.5,389.8 78.9,389.8" fill="#ff0000" stroke="#ff0000" stroke-width="0.3"/>
<polygon points="79.7,575.3 78.9,570.7 80.5,570.7" fill="#ff0000" stroke="#ff0000" stroke-width="0.3"/>
<line x1="79" y1="385.2" x2="97" y2="385.2" stroke="#ff0000" stroke-width="1"/>
<line x1="79" y1="575.3" x2="106.6" y2="575.3" stroke="#ff0000" stroke-width="1"/>
<text transform="translate(73.2,490.8) rotate(-90)" x="-4.75" y="0" textLength="9.5" lengthAdjust="spacingAndGlyphs" font-family="'Liberation Serif','Noto Serif CJK SC',serif" font-size="18.5" fill="#ff0000" dominant-baseline="central" font-weight="normal" font-style="normal" stroke="#fff" stroke-width="0.18">A</text>
<line x1="99.3" y1="391.9" x2="99.3" y2="507.4" stroke="#ff0000" stroke-width="1"/>
<polygon points="99.3,391.9 100.1,396.5 98.5,396.5" fill="#ff0000" stroke="#ff0000" stroke-width="0.3"/>
<polygon points="99.3,507.4 98.5,502.8 100.1,502.8" fill="#ff0000" stroke="#ff0000" stroke-width="0.3"/>
<line x1="88.3" y1="507.4" x2="100.3" y2="507.4" stroke="#c02000" stroke-width="1"/>
<text transform="translate(91.5,456.2) rotate(-90)" x="-4.75" y="0" textLength="9.5" lengthAdjust="spacingAndGlyphs" font-family="'Liberation Serif','Noto Serif CJK SC',serif" font-size="18.5" fill="#ff0000" dominant-baseline="central" font-weight="normal" font-style="normal" stroke="#fff" stroke-width="0.18">B</text>
<line x1="106.6" y1="575.3" x2="106.6" y2="611" stroke="#ff0000" stroke-width="1"/>
<line x1="106.6" y1="594.2" x2="206.4" y2="594.2" stroke="#ff0000" stroke-width="1"/>
<polygon points="106.6,594.2 111.2,593.4 111.2,595" fill="#ff0000" stroke="#ff0000" stroke-width="0.3"/>
<polygon points="206.4,594.2 201.8,595 201.8,593.4" fill="#ff0000" stroke="#ff0000" stroke-width="0.3"/>
<text transform="translate(156,586.5) rotate(0)" x="-4.75" y="0" textLength="9.5" lengthAdjust="spacingAndGlyphs" font-family="'Liberation Serif','Noto Serif CJK SC',serif" font-size="18.5" fill="#ff0000" dominant-baseline="central" font-weight="normal" font-style="normal" stroke="#fff" stroke-width="0.18">E</text>
<line x1="106.6" y1="610.5" x2="276" y2="610.5" stroke="#ff0000" stroke-width="1"/>
<polygon points="106.6,610.5 111.2,609.7 111.2,611.3" fill="#ff0000" stroke="#ff0000" stroke-width="0.3"/>
<polygon points="276,610.5 271.4,611.3 271.4,609.7" fill="#ff0000" stroke="#ff0000" stroke-width="0.3"/>
<line x1="276" y1="500" x2="276" y2="611" stroke="#ff0000" stroke-width="1"/>
<text transform="translate(190.6,601.8) rotate(0)" x="-4.75" y="0" textLength="9.5" lengthAdjust="spacingAndGlyphs" font-family="'Liberation Serif','Noto Serif CJK SC',serif" font-size="18.5" fill="#ff0000" dominant-baseline="central" font-weight="normal" font-style="normal" stroke="#fff" stroke-width="0.18">G</text>
<line x1="206.4" y1="431.4" x2="293.7" y2="431.4" stroke="#ff0000" stroke-width="1"/>
<line x1="293.3" y1="431.4" x2="293.3" y2="582.8" stroke="#ff0000" stroke-width="1"/>
<polygon points="293.3,431.4 294.1,436 292.5,436" fill="#ff0000" stroke="#ff0000" stroke-width="0.3"/>
<polygon points="293.3,582.8 292.5,578.2 294.1,578.2" fill="#ff0000" stroke="#ff0000" stroke-width="0.3"/>
<line x1="206.4" y1="582.8" x2="293.7" y2="582.8" stroke="#ff0000" stroke-width="1"/>
<text transform="translate(285.5,507.4) rotate(-90)" x="-4.75" y="0" textLength="9.5" lengthAdjust="spacingAndGlyphs" font-family="'Liberation Serif','Noto Serif CJK SC',serif" font-size="18.5" fill="#ff0000" dominant-baseline="central" font-weight="normal" font-style="normal" stroke="#fff" stroke-width="0.18">K</text>
<polyline points="444.5,172 444.5,155.3 528.4,155.3 528.4,197.4 505,197.4" stroke="#000000" stroke-width="1.2" fill="none"/>
<line x1="521" y1="155.3" x2="521" y2="197.4" stroke="#000000" stroke-width="1.3"/>
<rect x="528.4" y="157.1" width="4.4" height="7.6" rx="0" stroke="#000000" stroke-width="1" fill="#fff"/>
<line x1="517" y1="160.9" x2="534" y2="160.9" stroke="#00ff00" stroke-width="1"/>
<line x1="528.4" y1="159.3" x2="532.8" y2="159.3" stroke="#000000" stroke-width="0.6"/>
<line x1="528.4" y1="162.5" x2="532.8" y2="162.5" stroke="#000000" stroke-width="0.6"/>
<rect x="528.4" y="186.6" width="4.4" height="7.6" rx="0" stroke="#000000" stroke-width="1" fill="#fff"/>
<line x1="517" y1="190.4" x2="534" y2="190.4" stroke="#00ff00" stroke-width="1"/>
<line x1="528.4" y1="188.8" x2="532.8" y2="188.8" stroke="#000000" stroke-width="0.6"/>
<line x1="528.4" y1="192" x2="532.8" y2="192" stroke="#000000" stroke-width="0.6"/>
<line x1="572" y1="104" x2="572" y2="240" stroke="#000000" stroke-width="1"/>
<polyline points="558.5,112.8 546.5,163.3" stroke="#000000" stroke-width="1" fill="none"/>
<polyline points="565.6,112.8 555.1,163.3" stroke="#000000" stroke-width="1" fill="none"/>
<path d="M556,98.6 H565.9 Q570.2,98.6 570.2,103.1 V106.4 Q570.2,110.9 565.9,110.9 H556" stroke="#000000" stroke-width="3.7" fill="none" stroke-linecap="round"/>
<path d="M556,98.6 H565.9 Q570.2,98.6 570.2,103.1 V106.4 Q570.2,110.9 565.9,110.9 H556" stroke="#35f0f5" stroke-width="1.9" fill="none" stroke-linecap="round"/>
<path d="M541.1,163 Q549.8,165 557.3,163 Q558.5,163.2 558.5,164.5 V187 Q558.5,188.3 557.3,188.5 Q549.8,186.8 541.1,188.5 Z" stroke="#000000" stroke-width="1.1" fill="#fff"/>
<line x1="557.3" y1="164" x2="557.3" y2="188" stroke="#000000" stroke-width="0.8"/>
<rect x="558.5" y="172" width="3.2" height="7.6" rx="0" stroke="#000000" stroke-width="1" fill="#fff"/>
<line x1="558.5" y1="174.7" x2="561.7" y2="174.7" stroke="#000000" stroke-width="0.6"/>
<line x1="558.5" y1="177.3" x2="561.7" y2="177.3" stroke="#000000" stroke-width="0.6"/>
<line x1="528.4" y1="167.5" x2="541.1" y2="167.5" stroke="#000000" stroke-width="1"/>
<line x1="528.4" y1="183" x2="541.1" y2="183" stroke="#000000" stroke-width="1"/>
<polyline points="546.6,188.5 551.1,216 556.5,238.8" stroke="#000000" stroke-width="1" fill="none"/>
<polyline points="555.1,188.2 565.6,237" stroke="#000000" stroke-width="1" fill="none"/>
<polyline points="550.1,211 555.1,238.5" stroke="#000000" stroke-width="0.8" fill="none"/>
<path d="M554.5,241 Q554.5,239 556.5,239 H566.4 Q572.4,239.5 572.4,246 Q571.9,255 565.4,255 H556.5 Q554.5,255 554.5,253 Z" stroke="#000000" stroke-width="1" fill="#fff"/>
<rect x="335.6" y="175.8" width="3.7" height="56" rx="0" stroke="#444" stroke-width="1" fill="url(#hb)"/>
<polygon points="335.6,175.8 375.4,175.8 376.5,174 387.2,174 387.2,186 384,186 380.3,181.3 378.6,178.5 351.3,178.5 351.3,188.4 339.3,188.4 335.6,188.4" stroke="#333" stroke-width="1" fill="url(#hb2)"/>
<rect x="340.6" y="176.2" width="6.2" height="2.8" rx="0" stroke="#000000" stroke-width="1" fill="#fff"/>
<rect x="342" y="179" width="3.4" height="9.4" rx="0" stroke="#000000" stroke-width="0.9" fill="#fff"/>
<line x1="343.7" y1="173.5" x2="343.7" y2="190" stroke="#00ff00" stroke-width="1"/>
<line x1="351.3" y1="185.7" x2="384" y2="185.7" stroke="#555" stroke-width="1.2"/>
<line x1="339.3" y1="188.4" x2="384" y2="188.4" stroke="#000000" stroke-width="1"/>
<polygon points="335.6,228.4 383.4,228.4 383.4,219 387.6,219 387.6,235.4 367.4,235.4 367.4,237.4 344.5,237.4 344.5,231.8 335.6,231.8" stroke="#000000" stroke-width="1" fill="url(#hb)"/>
<rect x="351.7" y="228.4" width="6.8" height="9" rx="0" stroke="#000000" stroke-width="1" fill="#fff"/>
<line x1="355.2" y1="227" x2="355.2" y2="238" stroke="#00ff00" stroke-width="1" stroke-dasharray="2 1"/>
<polyline points="358.5,232.6 365,232.6 365,230.5 383.4,230.5" stroke="#000000" stroke-width="0.9" fill="none"/>
<path d="M347.3,228.4 V208 Q347.6,199 358.5,198.6 H363.2 V228.4" stroke="#000000" stroke-width="1" fill="#fff"/>
<path d="M357.7,228.4 V206 Q357.9,200.3 362.8,199.3" stroke="#000000" stroke-width="1" fill="none"/>
<line x1="363.2" y1="198.6" x2="363.2" y2="228.4" stroke="#444" stroke-width="1.5"/>
<polygon points="437.5,174 446,174 446,181 443.5,183.5 443,186 437.5,186" stroke="#333" stroke-width="1" fill="url(#hb2)"/>
<line x1="441.9" y1="185.7" x2="455" y2="185.7" stroke="#555" stroke-width="1.2"/>
<line x1="441.9" y1="188.4" x2="455" y2="188.4" stroke="#000000" stroke-width="1"/>
<polygon points="437.5,219 442,219 442,228.4 455,228.4 455,232.6 445,232.6 445,235.4 437.5,235.4" stroke="#000000" stroke-width="1" fill="url(#hb)"/>
<rect x="445" y="232.6" width="17" height="3" rx="0" stroke="#000000" stroke-width="0.8" fill="url(#hb)"/>
<polygon points="387.2,173.7 394.5,173.7 394.5,197 397.3,197 397.3,233 387.6,233 387.6,218.9 384,218.9 384,186 387.2,186" stroke="#00ffff" stroke-width="1" fill="url(#hc)"/>
<polygon points="430.2,173.7 437.5,173.7 437.5,186 441.7,186 441.7,218.9 437.5,218.9 437.5,233 427.4,233 427.4,197 430.2,197" stroke="#00ffff" stroke-width="1" fill="url(#hc)"/>
<line x1="394.5" y1="197" x2="430.2" y2="197" stroke="#00ffff" stroke-width="1.2"/>
<line x1="387.6" y1="233" x2="437.5" y2="233" stroke="#00ffff" stroke-width="1.2"/>
<line x1="398.9" y1="197" x2="398.9" y2="233" stroke="#00ffff" stroke-width="0.9"/>
<line x1="425.8" y1="197" x2="425.8" y2="233" stroke="#00ffff" stroke-width="0.9"/>
<line x1="382.3" y1="171.9" x2="444.5" y2="171.9" stroke="#111" stroke-width="3.4"/>
<rect x="388" y="169.3" width="6.8" height="3.2" rx="0" stroke="#000" stroke-width="1" fill="#222"/>
<rect x="430.5" y="169.3" width="7" height="3.2" rx="0" stroke="#000" stroke-width="1" fill="#222"/>
<rect x="432.3" y="173" width="3.6" height="8" rx="0" stroke="#000000" stroke-width="1.2" fill="#6e6"/>
<line x1="391.2" y1="170" x2="391.2" y2="183" stroke="#00ff00" stroke-width="1"/>
<line x1="367.4" y1="235.4" x2="480.5" y2="235.4" stroke="#000000" stroke-width="1"/>
<line x1="344.5" y1="237.5" x2="480.5" y2="237.5" stroke="#555" stroke-width="2"/>
<line x1="412.5" y1="166" x2="412.5" y2="239.5" stroke="#00ff00" stroke-width="1"/>
<line x1="333" y1="208.4" x2="389.5" y2="208.4" stroke="#00ff00" stroke-width="1"/>
<line x1="402.5" y1="208.4" x2="444" y2="208.4" stroke="#00ff00" stroke-width="1"/>
<circle cx="481.6" cy="208.2" r="38.3" stroke="#000000" stroke-width="1.2" fill="#fff"/>
<circle cx="481.6" cy="208.2" r="32.2" stroke="#00ff00" stroke-width="1" fill="none" stroke-dasharray="22 1.5 1.5 1.5"/>
<polygon points="463.2,186.2 461.25,189.58 457.35,189.58 455.4,186.2 457.35,182.82 461.25,182.82" stroke="#000000" stroke-width="1.3" fill="#fff"/>
<line x1="457" y1="183.9" x2="461.6" y2="188.5" stroke="#00ff00" stroke-width="0.8"/>
<line x1="457" y1="188.5" x2="461.6" y2="183.9" stroke="#00ff00" stroke-width="0.8"/>
<polygon points="463.2,230.2 461.25,233.58 457.35,233.58 455.4,230.2 457.35,226.82 461.25,226.82" stroke="#000000" stroke-width="1.3" fill="#fff"/>
<line x1="457" y1="227.9" x2="461.6" y2="232.5" stroke="#00ff00" stroke-width="0.8"/>
<line x1="457" y1="232.5" x2="461.6" y2="227.9" stroke="#00ff00" stroke-width="0.8"/>
<polygon points="507.8,186.2 505.85,189.58 501.95,189.58 500,186.2 501.95,182.82 505.85,182.82" stroke="#000000" stroke-width="1.3" fill="#fff"/>
<line x1="501.6" y1="183.9" x2="506.2" y2="188.5" stroke="#00ff00" stroke-width="0.8"/>
<line x1="501.6" y1="188.5" x2="506.2" y2="183.9" stroke="#00ff00" stroke-width="0.8"/>
<polygon points="507.8,230.2 505.85,233.58 501.95,233.58 500,230.2 501.95,226.82 505.85,226.82" stroke="#000000" stroke-width="1.3" fill="#fff"/>
<line x1="501.6" y1="227.9" x2="506.2" y2="232.5" stroke="#00ff00" stroke-width="0.8"/>
<line x1="501.6" y1="232.5" x2="506.2" y2="227.9" stroke="#00ff00" stroke-width="0.8"/>
<line x1="461" y1="176.4" x2="566.6" y2="176.4" stroke="#00ff00" stroke-width="1" stroke-dasharray="8 1.5 1.5 1.5"/>
<line x1="481.6" y1="189" x2="481.6" y2="227" stroke="#00ff00" stroke-width="1" stroke-dasharray="24 2 2 2"/>
<line x1="471" y1="208.2" x2="525.5" y2="208.2" stroke="#00ff00" stroke-width="1"/>
<path d="M448.9,228.9 Q455,232 462.5,231.3 T474.6,232.3 Q479.5,233 480.2,235.5" stroke="#ff0000" stroke-width="1" fill="none"/>
<path d="M455,232.2 Q466,235.5 480,235.3" stroke="#ffff00" stroke-width="1.3" fill="none"/>
<line x1="469.9" y1="232.5" x2="469.9" y2="241" stroke="#00ff00" stroke-width="1.2"/>
<line x1="317.7" y1="171.9" x2="382.3" y2="171.9" stroke="#ff0000" stroke-width="1"/>
<line x1="317.7" y1="171.9" x2="317.7" y2="237.8" stroke="#ff0000" stroke-width="1"/>
<polygon points="317.7,171.9 318.5,176.5 316.9,176.5" fill="#ff0000" stroke="#ff0000" stroke-width="0.3"/>
<polygon points="317.7,237.8 316.9,233.2 318.5,233.2" fill="#ff0000" stroke="#ff0000" stroke-width="0.3"/>
<line x1="317" y1="237.8" x2="344.5" y2="237.8" stroke="#ff0000" stroke-width="1"/>
<line x1="331.5" y1="175.8" x2="336" y2="175.8" stroke="#ff0000" stroke-width="1"/>
<line x1="332.3" y1="175.8" x2="332.3" y2="237.8" stroke="#ff0000" stroke-width="1"/>
<polygon points="332.3,175.8 333.1,180.4 331.5,180.4" fill="#ff0000" stroke="#ff0000" stroke-width="0.3"/>
<polygon points="332.3,237.8 331.5,233.2 333.1,233.2" fill="#ff0000" stroke="#ff0000" stroke-width="0.3"/>
<text transform="translate(309,204.3) rotate(-90)" x="-9.5" y="0" textLength="19" lengthAdjust="spacingAndGlyphs" font-family="'Liberation Serif','Noto Serif CJK SC',serif" font-size="18.5" fill="#ff0000" dominant-baseline="central" font-weight="normal" font-style="normal" stroke="#fff" stroke-width="0.18">H2</text>
<text transform="translate(324.5,205.3) rotate(-90)" x="-4.75" y="0" textLength="9.5" lengthAdjust="spacingAndGlyphs" font-family="'Liberation Serif','Noto Serif CJK SC',serif" font-size="18.5" fill="#ff0000" dominant-baseline="central" font-weight="normal" font-style="normal" stroke="#fff" stroke-width="0.18">H</text>
<line x1="367.5" y1="238" x2="367.5" y2="269.3" stroke="#ff0000" stroke-width="1"/>
<line x1="458" y1="236" x2="458" y2="269.3" stroke="#ff0000" stroke-width="1"/>
<line x1="367.5" y1="268.3" x2="458" y2="268.3" stroke="#ff0000" stroke-width="1"/>
<polygon points="367.5,268.3 372.1,267.5 372.1,269.1" fill="#ff0000" stroke="#ff0000" stroke-width="0.3"/>
<polygon points="458,268.3 453.4,269.1 453.4,267.5" fill="#ff0000" stroke="#ff0000" stroke-width="0.3"/>
<line x1="355" y1="238" x2="355" y2="292.2" stroke="#ff0000" stroke-width="1"/>
<line x1="470.3" y1="233" x2="470.3" y2="292.2" stroke="#ff0000" stroke-width="1"/>
<line x1="355" y1="291.2" x2="470.3" y2="291.2" stroke="#ff0000" stroke-width="1"/>
<polygon points="355,291.2 359.6,290.4 359.6,292" fill="#ff0000" stroke="#ff0000" stroke-width="0.3"/>
<polygon points="470.3,291.2 465.7,292 465.7,290.4" fill="#ff0000" stroke="#ff0000" stroke-width="0.3"/>
<line x1="344.5" y1="238" x2="344.5" y2="312" stroke="#ff0000" stroke-width="1"/>
<line x1="480.5" y1="236" x2="480.5" y2="312" stroke="#ff0000" stroke-width="1"/>
<line x1="344.5" y1="311" x2="480.5" y2="311" stroke="#ff0000" stroke-width="1"/>
<polygon points="344.5,311 349.1,310.2 349.1,311.8" fill="#ff0000" stroke="#ff0000" stroke-width="0.3"/>
<polygon points="480.5,311 475.9,311.8 475.9,310.2" fill="#ff0000" stroke="#ff0000" stroke-width="0.3"/>
<line x1="381.3" y1="229" x2="381.3" y2="254.8" stroke="#ff0000" stroke-width="1"/>
<line x1="366.5" y1="252.8" x2="381.3" y2="252.8" stroke="#ff0000" stroke-width="1"/>
<text transform="translate(376,248.8) rotate(-90)" x="-4.75" y="0" textLength="9.5" lengthAdjust="spacingAndGlyphs" font-family="'Liberation Serif','Noto Serif CJK SC',serif" font-size="18.5" fill="#ff0000" dominant-baseline="central" font-weight="normal" font-style="normal" stroke="#fff" stroke-width="0.18">h</text>
<text transform="translate(411.7,260) rotate(0)" x="-14.85" y="0" textLength="29.7" lengthAdjust="spacingAndGlyphs" font-family="'Liberation Serif','Noto Serif CJK SC',serif" font-size="19" fill="#ff0000" dominant-baseline="central" font-weight="normal" font-style="normal" stroke="#fff" stroke-width="0.18"><tspan font-style="italic">Φ</tspan>D2</text>
<text transform="translate(410.8,282.7) rotate(0)" x="-38" y="0" textLength="76" lengthAdjust="spacingAndGlyphs" font-family="'Liberation Serif','Noto Serif CJK SC',serif" font-size="19" fill="#ff0000" dominant-baseline="central" font-weight="normal" font-style="normal" stroke="#fff" stroke-width="0.18">PCD(<tspan font-style="italic">Φ</tspan>D1)</text>
<text transform="translate(412,302.6) rotate(0)" x="-10" y="0" textLength="20" lengthAdjust="spacingAndGlyphs" font-family="'Liberation Serif','Noto Serif CJK SC',serif" font-size="19" fill="#ff0000" dominant-baseline="central" font-weight="normal" font-style="normal" stroke="#fff" stroke-width="0.18"><tspan font-style="italic">Φ</tspan>D</text>
<polyline points="446.5,471 446.5,453.8 529.8,453.8 529.8,495.4 507,495.4" stroke="#000000" stroke-width="1.2" fill="none"/>
<line x1="522.8" y1="453.8" x2="522.8" y2="495.4" stroke="#000000" stroke-width="1.3"/>
<rect x="529.8" y="456" width="4.6" height="7.6" rx="0" stroke="#000000" stroke-width="1" fill="#fff"/>
<line x1="518" y1="459.8" x2="536" y2="459.8" stroke="#00ff00" stroke-width="1"/>
<line x1="529.8" y1="458.2" x2="534.4" y2="458.2" stroke="#000000" stroke-width="0.6"/>
<line x1="529.8" y1="461.4" x2="534.4" y2="461.4" stroke="#000000" stroke-width="0.6"/>
<rect x="529.8" y="485.6" width="4.6" height="7.6" rx="0" stroke="#000000" stroke-width="1" fill="#fff"/>
<line x1="518" y1="489.4" x2="536" y2="489.4" stroke="#00ff00" stroke-width="1"/>
<line x1="529.8" y1="487.8" x2="534.4" y2="487.8" stroke="#000000" stroke-width="0.6"/>
<line x1="529.8" y1="491" x2="534.4" y2="491" stroke="#000000" stroke-width="0.6"/>
<line x1="574.2" y1="442.6" x2="574.2" y2="537.6" stroke="#000000" stroke-width="1"/>
<polyline points="555.5,433.9 549.5,459.6" stroke="#000000" stroke-width="1" fill="none"/>
<polyline points="561.5,440.1 557.5,459.6" stroke="#000000" stroke-width="1" fill="none"/>
<path d="M555.5,433.9 q1.5,2.5 3,4 q1.5,1.8 2.5,2.3 q2,0.5 3.5,-1 q2,-1.5 3,0 q1.3,2.5 3,3.2 q2,0.6 4.2,0.2" stroke="#ff0000" stroke-width="1" fill="none"/>
<path d="M543.5,460.6 Q552.3,462.6 559.9,460.6 Q561.1,460.8 561.1,462.1 V484.6 Q561.1,485.9 559.9,486.1 Q552.3,484.4 543.5,486.1 Z" stroke="#000000" stroke-width="1.1" fill="#fff"/>
<line x1="559.9" y1="461.6" x2="559.9" y2="485.6" stroke="#000000" stroke-width="0.8"/>
<rect x="561.1" y="469.6" width="3.2" height="7.6" rx="0" stroke="#000000" stroke-width="1" fill="#fff"/>
<line x1="561.1" y1="472.3" x2="564.3" y2="472.3" stroke="#000000" stroke-width="0.6"/>
<line x1="561.1" y1="474.9" x2="564.3" y2="474.9" stroke="#000000" stroke-width="0.6"/>
<line x1="529.8" y1="465.1" x2="543.5" y2="465.1" stroke="#000000" stroke-width="1"/>
<line x1="529.8" y1="480.6" x2="543.5" y2="480.6" stroke="#000000" stroke-width="1"/>
<polyline points="549,486.1 553.5,513.6 557.9,536.4" stroke="#000000" stroke-width="1" fill="none"/>
<polyline points="557.5,485.8 567,534.6" stroke="#000000" stroke-width="1" fill="none"/>
<polyline points="552.5,508.6 557.5,536.1" stroke="#000000" stroke-width="0.8" fill="none"/>
<path d="M555.9,538.6 Q555.9,536.6 557.9,536.6 H567.8 Q573.8,537.1 573.8,543.6 Q573.3,552.6 566.8,552.6 H557.9 Q555.9,552.6 555.9,550.6 Z" stroke="#000000" stroke-width="1" fill="#fff"/>
<polygon points="353.7,474.5 381.5,474.5 382.5,473 387,473 387,486 384.3,486 383,481.5 382.3,477.3 360.1,477.3 360.1,481.3 357.3,488.1 357.3,522.1 353.7,522.1" stroke="#333" stroke-width="1" fill="url(#hb2)"/>
<line x1="353.7" y1="481.3" x2="383.8" y2="481.3" stroke="#000000" stroke-width="1.6"/>
<line x1="360.1" y1="486.1" x2="384" y2="486.1" stroke="#555" stroke-width="1.3"/>
<polyline points="357.3,488.1 357.3,522.1" stroke="#000000" stroke-width="1.2" fill="none"/>
<polyline points="366.1,486.5 366.1,522.1" stroke="#000000" stroke-width="1.1" fill="none"/>
<polyline points="366.1,499.4 372.7,499.4 372.7,531" stroke="#000000" stroke-width="1.1" fill="none"/>
<polygon points="353.7,522.1 352.5,522.1 352.5,527.3 342.4,527.3 342.4,532.6 344.4,532.6 344.4,537.4 367.3,537.4 367.3,535.2 387.4,535.2 387.4,518.9 383.4,518.9 383.4,531 361.3,531 360,532.6 357.3,532.6 357.3,522.1" stroke="#000000" stroke-width="1" fill="url(#hb)"/>
<rect x="349.7" y="530.6" width="6.8" height="6.8" rx="0" stroke="#000000" stroke-width="1.2" fill="#fff"/>
<line x1="353.1" y1="528" x2="353.1" y2="538.5" stroke="#00ff00" stroke-width="1.3"/>
<rect x="357.3" y="522.1" width="15.3" height="8.9" rx="0" stroke="#000000" stroke-width="1.1" fill="#fff"/>
<line x1="372.6" y1="524.5" x2="383.4" y2="524.5" stroke="#444" stroke-width="1.2"/>
<polygon points="437.8,473 446,473 446,480 443.5,482.5 443,486 437.8,486" stroke="#333" stroke-width="1" fill="url(#hb2)"/>
<line x1="440.5" y1="481.3" x2="452" y2="481.3" stroke="#000000" stroke-width="1.4"/>
<line x1="440.5" y1="486.1" x2="452" y2="486.1" stroke="#555" stroke-width="1.2"/>
<polygon points="437.5,518.9 441.5,518.9 441.5,528.4 455,528.4 455,535.2 437.5,535.2" stroke="#000000" stroke-width="1" fill="url(#hb)"/>
<rect x="440.2" y="493" width="5.3" height="4.5" rx="0" stroke="#000000" stroke-width="0.9" fill="#fff"/>
<rect x="440.2" y="500" width="5.3" height="4.5" rx="0" stroke="#000000" stroke-width="0.9" fill="#fff"/>
<rect x="440.2" y="507" width="5.3" height="4.5" rx="0" stroke="#000000" stroke-width="0.9" fill="#fff"/>
<rect x="440.2" y="514" width="5.3" height="4.5" rx="0" stroke="#000000" stroke-width="0.9" fill="#fff"/>
<rect x="384.6" y="473.3" width="12.9" height="59.7" rx="0" stroke="#00ffff" stroke-width="1" fill="url(#hc)"/>
<rect x="427.3" y="473.3" width="12.9" height="59.7" rx="0" stroke="#00ffff" stroke-width="1" fill="url(#hc)"/>
<line x1="397.5" y1="473.3" x2="397.5" y2="533" stroke="#666" stroke-width="1.3"/>
<line x1="399.6" y1="473.3" x2="399.6" y2="533" stroke="#666" stroke-width="1.1"/>
<line x1="427.3" y1="473.3" x2="427.3" y2="533" stroke="#666" stroke-width="1.3"/>
<line x1="425.2" y1="473.3" x2="425.2" y2="533" stroke="#666" stroke-width="1.1"/>
<line x1="384.6" y1="473.3" x2="384.6" y2="533" stroke="#666" stroke-width="1"/>
<line x1="382.3" y1="471" x2="445.5" y2="471" stroke="#111" stroke-width="3.2"/>
<rect x="388" y="468.3" width="6.8" height="3.3" rx="0" stroke="#000" stroke-width="1" fill="#222"/>
<rect x="430.5" y="468.3" width="7" height="3.3" rx="0" stroke="#000" stroke-width="1" fill="#222"/>
<rect x="432.3" y="472" width="3.6" height="8" rx="0" stroke="#000000" stroke-width="1.2" fill="#6e6"/>
<line x1="391.2" y1="465" x2="391.2" y2="482" stroke="#00ff00" stroke-width="1"/>
<line x1="367.3" y1="535.4" x2="480.5" y2="535.4" stroke="#555" stroke-width="1.2"/>
<line x1="344.4" y1="537.5" x2="480.5" y2="537.5" stroke="#000000" stroke-width="1.2"/>
<line x1="412.5" y1="465" x2="412.5" y2="539.5" stroke="#00ff00" stroke-width="1" stroke-dasharray="14 3"/>
<line x1="350" y1="507.3" x2="446" y2="507.3" stroke="#00ff00" stroke-width="1" stroke-dasharray="30 3"/>
<circle cx="483.2" cy="507.1" r="38" stroke="#000000" stroke-width="1.2" fill="#fff"/>
<circle cx="483.2" cy="507.1" r="31.5" stroke="#00ff00" stroke-width="1" fill="none" stroke-dasharray="22 1.5 1.5 1.5"/>
<polygon points="464.8,485.1 462.85,488.48 458.95,488.48 457,485.1 458.95,481.72 462.85,481.72" stroke="#000000" stroke-width="1.3" fill="#fff"/>
<line x1="458.6" y1="482.8" x2="463.2" y2="487.4" stroke="#00ff00" stroke-width="0.8"/>
<line x1="458.6" y1="487.4" x2="463.2" y2="482.8" stroke="#00ff00" stroke-width="0.8"/>
<polygon points="464.8,529.1 462.85,532.48 458.95,532.48 457,529.1 458.95,525.72 462.85,525.72" stroke="#000000" stroke-width="1.3" fill="#fff"/>
<line x1="458.6" y1="526.8" x2="463.2" y2="531.4" stroke="#00ff00" stroke-width="0.8"/>
<line x1="458.6" y1="531.4" x2="463.2" y2="526.8" stroke="#00ff00" stroke-width="0.8"/>
<polygon points="509.4,485.1 507.45,488.48 503.55,488.48 501.6,485.1 503.55,481.72 507.45,481.72" stroke="#000000" stroke-width="1.3" fill="#fff"/>
<line x1="503.2" y1="482.8" x2="507.8" y2="487.4" stroke="#00ff00" stroke-width="0.8"/>
<line x1="503.2" y1="487.4" x2="507.8" y2="482.8" stroke="#00ff00" stroke-width="0.8"/>
<polygon points="509.4,529.1 507.45,532.48 503.55,532.48 501.6,529.1 503.55,525.72 507.45,525.72" stroke="#000000" stroke-width="1.3" fill="#fff"/>
<line x1="503.2" y1="526.8" x2="507.8" y2="531.4" stroke="#00ff00" stroke-width="0.8"/>
<line x1="503.2" y1="531.4" x2="507.8" y2="526.8" stroke="#00ff00" stroke-width="0.8"/>
<line x1="445" y1="474.9" x2="568.6" y2="474.9" stroke="#00ff00" stroke-width="1" stroke-dasharray="8 1.5 1.5 1.5"/>
<line x1="483.2" y1="471" x2="483.2" y2="545" stroke="#00ff00" stroke-width="1" stroke-dasharray="24 2 2 2"/>
<line x1="446" y1="507.1" x2="526" y2="507.1" stroke="#00ff00" stroke-width="1"/>
<path d="M450.5,528 Q457,531 464,530.3 T476,531.3 Q480,532 480.5,534.5" stroke="#ff0000" stroke-width="1" fill="none"/>
<path d="M457,531.2 Q468,534.5 481,534.3" stroke="#ffff00" stroke-width="1.3" fill="none"/>
<line x1="323.7" y1="471" x2="382.3" y2="471" stroke="#ff0000" stroke-width="1"/>
<line x1="323.7" y1="471" x2="323.7" y2="537.4" stroke="#ff0000" stroke-width="1"/>
<polygon points="323.7,471 324.5,475.6 322.9,475.6" fill="#ff0000" stroke="#ff0000" stroke-width="0.3"/>
<polygon points="323.7,537.4 322.9,532.8 324.5,532.8" fill="#ff0000" stroke="#ff0000" stroke-width="0.3"/>
<line x1="323" y1="537.4" x2="344.4" y2="537.4" stroke="#ff0000" stroke-width="1"/>
<line x1="338.8" y1="474.5" x2="354" y2="474.5" stroke="#ff0000" stroke-width="1"/>
<line x1="339.5" y1="474.5" x2="339.5" y2="537.4" stroke="#ff0000" stroke-width="1"/>
<polygon points="339.5,474.5 340.3,479.1 338.7,479.1" fill="#ff0000" stroke="#ff0000" stroke-width="0.3"/>
<polygon points="339.5,537.4 338.7,532.8 340.3,532.8" fill="#ff0000" stroke="#ff0000" stroke-width="0.3"/>
<text transform="translate(315,503.9) rotate(-90)" x="-9.5" y="0" textLength="19" lengthAdjust="spacingAndGlyphs" font-family="'Liberation Serif','Noto Serif CJK SC',serif" font-size="18.5" fill="#ff0000" dominant-baseline="central" font-weight="normal" font-style="normal" stroke="#fff" stroke-width="0.18">H2</text>
<text transform="translate(331.7,504.7) rotate(-90)" x="-4.75" y="0" textLength="9.5" lengthAdjust="spacingAndGlyphs" font-family="'Liberation Serif','Noto Serif CJK SC',serif" font-size="18.5" fill="#ff0000" dominant-baseline="central" font-weight="normal" font-style="normal" stroke="#fff" stroke-width="0.18">H</text>
<line x1="367.5" y1="538" x2="367.5" y2="563.3" stroke="#ff0000" stroke-width="1"/>
<line x1="458" y1="536" x2="458" y2="563.3" stroke="#ff0000" stroke-width="1"/>
<line x1="367.5" y1="562.3" x2="458" y2="562.3" stroke="#ff0000" stroke-width="1"/>
<polygon points="367.5,562.3 372.1,561.5 372.1,563.1" fill="#ff0000" stroke="#ff0000" stroke-width="0.3"/>
<polygon points="458,562.3 453.4,563.1 453.4,561.5" fill="#ff0000" stroke="#ff0000" stroke-width="0.3"/>
<line x1="353" y1="538" x2="353" y2="587" stroke="#ff0000" stroke-width="1"/>
<line x1="472.3" y1="533" x2="472.3" y2="587" stroke="#ff0000" stroke-width="1"/>
<line x1="353" y1="586" x2="472.3" y2="586" stroke="#ff0000" stroke-width="1"/>
<polygon points="353,586 357.6,585.2 357.6,586.8" fill="#ff0000" stroke="#ff0000" stroke-width="0.3"/>
<polygon points="472.3,586 467.7,586.8 467.7,585.2" fill="#ff0000" stroke="#ff0000" stroke-width="0.3"/>
<line x1="344.5" y1="538" x2="344.5" y2="607.4" stroke="#ff0000" stroke-width="1"/>
<line x1="480.5" y1="536" x2="480.5" y2="607.4" stroke="#ff0000" stroke-width="1"/>
<line x1="344.5" y1="606.4" x2="480.5" y2="606.4" stroke="#ff0000" stroke-width="1"/>
<polygon points="344.5,606.4 349.1,605.6 349.1,607.2" fill="#ff0000" stroke="#ff0000" stroke-width="0.3"/>
<polygon points="480.5,606.4 475.9,607.2 475.9,605.6" fill="#ff0000" stroke="#ff0000" stroke-width="0.3"/>
<line x1="384" y1="529" x2="384" y2="554.3" stroke="#ff0000" stroke-width="1"/>
<line x1="366.5" y1="552.3" x2="384" y2="552.3" stroke="#ff0000" stroke-width="1"/>
<text transform="translate(378.7,548.3) rotate(-90)" x="-4.75" y="0" textLength="9.5" lengthAdjust="spacingAndGlyphs" font-family="'Liberation Serif','Noto Serif CJK SC',serif" font-size="18.5" fill="#ff0000" dominant-baseline="central" font-weight="normal" font-style="normal" stroke="#fff" stroke-width="0.18">h</text>
<text transform="translate(411.7,554) rotate(0)" x="-14.85" y="0" textLength="29.7" lengthAdjust="spacingAndGlyphs" font-family="'Liberation Serif','Noto Serif CJK SC',serif" font-size="19" fill="#ff0000" dominant-baseline="central" font-weight="normal" font-style="normal" stroke="#fff" stroke-width="0.18"><tspan font-style="italic">Φ</tspan>D2</text>
<text transform="translate(412.5,577.5) rotate(0)" x="-38" y="0" textLength="76" lengthAdjust="spacingAndGlyphs" font-family="'Liberation Serif','Noto Serif CJK SC',serif" font-size="19" fill="#ff0000" dominant-baseline="central" font-weight="normal" font-style="normal" stroke="#fff" stroke-width="0.18">PCD(<tspan font-style="italic">Φ</tspan>D1)</text>
<text transform="translate(412,598) rotate(0)" x="-10" y="0" textLength="20" lengthAdjust="spacingAndGlyphs" font-family="'Liberation Serif','Noto Serif CJK SC',serif" font-size="19" fill="#ff0000" dominant-baseline="central" font-weight="normal" font-style="normal" stroke="#fff" stroke-width="0.18"><tspan font-style="italic">Φ</tspan>D</text>
<g transform="translate(879.5,0) scale(-1,1)">
<polyline points="106.8,136.1 106.8,276.3 166,276.3" stroke="#000000" stroke-width="1.3" fill="none"/>
<line x1="106.8" y1="136.1" x2="165.2" y2="136.1" stroke="#000000" stroke-width="1.2"/>
<line x1="106.8" y1="138.2" x2="165.2" y2="138.2" stroke="#000000" stroke-width="1"/>
<line x1="106.8" y1="160.6" x2="137.7" y2="160.6" stroke="#000000" stroke-width="1"/>
<polyline points="106.8,161.5 112.5,163.4 142.9,163.4" stroke="#000000" stroke-width="1" fill="none"/>
<line x1="112.5" y1="163.4" x2="112.5" y2="256.1" stroke="#000000" stroke-width="1"/>
<polyline points="106.8,258.2 140.3,258.2" stroke="#000000" stroke-width="1" fill="none"/>
<polyline points="106.8,257.5 112.5,256.1 145,256.1" stroke="#000000" stroke-width="1" fill="none"/>
<polyline points="258.8,153.6 277.5,153.6 277.5,184.5" stroke="#000000" stroke-width="1.2" fill="none"/>
<polyline points="277.5,232.3 277.5,263.7 258.8,263.7" stroke="#000000" stroke-width="1.2" fill="none"/>
<rect x="277.5" y="158.15" width="7.07" height="13.1" rx="0" stroke="#000000" stroke-width="1" fill="#fff"/>
<rect x="284.57" y="160.45" width="3.03" height="8.5" rx="0" stroke="#000000" stroke-width="1" fill="#fff"/>
<line x1="277.5" y1="161.42" x2="284.57" y2="161.42" stroke="#000000" stroke-width="0.7"/>
<line x1="277.5" y1="167.97" x2="284.57" y2="167.97" stroke="#000000" stroke-width="0.7"/>
<rect x="277.5" y="245.25" width="7.07" height="13.1" rx="0" stroke="#000000" stroke-width="1" fill="#fff"/>
<rect x="284.57" y="247.55" width="3.03" height="8.5" rx="0" stroke="#000000" stroke-width="1" fill="#fff"/>
<line x1="277.5" y1="248.53" x2="284.57" y2="248.53" stroke="#000000" stroke-width="0.7"/>
<line x1="277.5" y1="255.08" x2="284.57" y2="255.08" stroke="#000000" stroke-width="0.7"/>
<line x1="268" y1="164.5" x2="291" y2="164.5" stroke="#00ff00" stroke-width="1"/>
<line x1="268" y1="252.3" x2="291" y2="252.3" stroke="#00ff00" stroke-width="1"/>
<line x1="46.7" y1="41" x2="46.7" y2="192" stroke="#000000" stroke-width="1"/>
<polyline points="53.8,51.1 63,101.3" stroke="#000000" stroke-width="1" fill="none"/>
<polyline points="59.6,51.1 71.2,100.8" stroke="#000000" stroke-width="1" fill="none"/>
<polyline points="63.2,127.1 53.6,177.3" stroke="#000000" stroke-width="1" fill="none"/>
<polyline points="71.8,127.1 60.2,177.3" stroke="#000000" stroke-width="1" fill="none"/>
<polyline points="66.8,154 62.3,177.3" stroke="#000000" stroke-width="0.8" fill="none"/>
<path d="M62.7,36.3 H53 Q48.7,36.3 48.7,40.8 V44.6 Q48.7,49.1 53,49.1 H62.7" stroke="#000000" stroke-width="3.7" fill="none" stroke-linecap="round"/>
<path d="M62.7,36.3 H53 Q48.7,36.3 48.7,40.8 V44.6 Q48.7,49.1 53,49.1 H62.7" stroke="#35f0f5" stroke-width="1.9" fill="none" stroke-linecap="round"/>
<path d="M59.6,102.5 Q59.6,101.3 60.8,101.1 Q68.3,103 76.8,101.1 V126.6 Q68.3,124.8 60.8,126.6 Q59.6,126.4 59.6,125.2 Z" stroke="#000000" stroke-width="1.1" fill="#fff"/>
<line x1="60.8" y1="102" x2="60.8" y2="126" stroke="#000000" stroke-width="0.8"/>
<rect x="56.4" y="110" width="3.2" height="7.8" rx="0" stroke="#000000" stroke-width="1" fill="#fff"/>
<line x1="56.4" y1="112.7" x2="59.6" y2="112.7" stroke="#000000" stroke-width="0.6"/>
<line x1="56.4" y1="115.3" x2="59.6" y2="115.3" stroke="#000000" stroke-width="0.6"/>
<line x1="76.8" y1="106.4" x2="89.3" y2="106.4" stroke="#000000" stroke-width="1"/>
<line x1="76.8" y1="121.4" x2="89.3" y2="121.4" stroke="#000000" stroke-width="1"/>
<path d="M63.8,176.9 H53.3 Q46.5,177.5 46.5,185 Q46.5,193.4 53.3,193.4 H63.8 Z" stroke="#000000" stroke-width="1" fill="#fff"/>
<polygon points="46.1,181.3 21,180 20.5,190.8 46.1,189.4" stroke="#000000" stroke-width="1" fill="#fff"/>
<line x1="20" y1="185.3" x2="51" y2="185.3" stroke="#00ff00" stroke-width="1" stroke-dasharray="8 1.5 1.5 1.5"/>
<rect x="89.3" y="92.3" width="7" height="42.7" rx="0" stroke="#000000" stroke-width="1.2" fill="#fff"/>
<rect x="85" y="96" width="4.3" height="6.6" rx="0" stroke="#000000" stroke-width="1" fill="#fff"/>
<line x1="85" y1="98" x2="89.3" y2="98" stroke="#000000" stroke-width="0.6"/>
<line x1="85" y1="100.6" x2="89.3" y2="100.6" stroke="#000000" stroke-width="0.6"/>
<line x1="86" y1="99.3" x2="100" y2="99.3" stroke="#00ff00" stroke-width="1"/>
<rect x="85" y="125.2" width="4.3" height="6.6" rx="0" stroke="#000000" stroke-width="1" fill="#fff"/>
<line x1="85" y1="127.2" x2="89.3" y2="127.2" stroke="#000000" stroke-width="0.6"/>
<line x1="85" y1="129.8" x2="89.3" y2="129.8" stroke="#000000" stroke-width="0.6"/>
<line x1="86" y1="128.5" x2="100" y2="128.5" stroke="#00ff00" stroke-width="1"/>
<path d="M97.3,91.7 V133 Q97.3,135 99.3,135 H172.6 Q174.6,135 174.6,133 V91.7" stroke="#000000" stroke-width="1.4" fill="#fff"/>
<rect x="97.3" y="84.9" width="77.3" height="6.8" rx="0" stroke="#000000" stroke-width="1.4" fill="#fff"/>
<rect x="102.2" y="82.6" width="4.4" height="2.3" rx="0" stroke="#000000" stroke-width="1" fill="#333"/>
<line x1="104.4" y1="83" x2="104.4" y2="97" stroke="#00ff00" stroke-width="0.8"/>
<rect x="165.4" y="82.6" width="4.4" height="2.3" rx="0" stroke="#000000" stroke-width="1" fill="#333"/>
<line x1="167.6" y1="83" x2="167.6" y2="97" stroke="#00ff00" stroke-width="0.8"/>
<line x1="167.6" y1="83" x2="167.6" y2="98" stroke="#ffff00" stroke-width="2"/>
<line x1="167.6" y1="83" x2="167.6" y2="99" stroke="#00ff00" stroke-width="0.5" stroke-dasharray="2 1"/>
</g>
<line x1="703.5" y1="114" x2="841.6" y2="114" stroke="#00ff00" stroke-width="1" stroke-dasharray="8 1.5 1.5 1.5"/>
<circle cx="674.4" cy="208.4" r="67.8" stroke="#000000" stroke-width="1.05" fill="#fff"/>
<path d="M734.74,256.23 A77,77 0 1 1 736.77,163.25" stroke="#000000" stroke-width="1.1" fill="none"/>
<path d="M725.8,151.3 Q739,150.3 741.8,160.6" stroke="#000000" stroke-width="1" fill="none"/>
<path d="M739.2,258.2 Q737.5,268.2 724.2,267.5" stroke="#000000" stroke-width="1" fill="none"/>
<line x1="743.4" y1="80.2" x2="743.4" y2="287.4" stroke="#00ff00" stroke-width="1"/>
<circle cx="674.4" cy="208.4" r="67.8" stroke="#000000" stroke-width="1.05" fill="none"/>
<circle cx="674.4" cy="208.4" r="45.5" stroke="#000000" stroke-width="1.05" fill="none"/>
<circle cx="674.4" cy="208.4" r="25.3" stroke="#000000" stroke-width="1.05" fill="none"/>
<circle cx="674.4" cy="208.4" r="13.7" stroke="#000000" stroke-width="1.05" fill="none"/>
<circle cx="674.4" cy="208.4" r="57.5" stroke="#00ff00" stroke-width="1" fill="none" stroke-dasharray="20 1.5 1.5 1.5"/>
<circle cx="696.4" cy="155.28" r="3.5" stroke="#000000" stroke-width="1.5" fill="#fff"/>
<line x1="694.11" y1="160.82" x2="698.7" y2="149.73" stroke="#00ff00" stroke-width="0.8"/>
<line x1="694.25" y1="154.44" x2="698.52" y2="156.2" stroke="#00ff00" stroke-width="0.8"/>
<circle cx="727.52" cy="186.4" r="3.5" stroke="#000000" stroke-width="1.5" fill="#fff"/>
<line x1="721.98" y1="188.69" x2="733.07" y2="184.1" stroke="#00ff00" stroke-width="0.8"/>
<line x1="726.6" y1="184.28" x2="728.36" y2="188.55" stroke="#00ff00" stroke-width="0.8"/>
<circle cx="727.52" cy="230.4" r="3.5" stroke="#000000" stroke-width="1.5" fill="#fff"/>
<line x1="721.98" y1="228.11" x2="733.07" y2="232.7" stroke="#00ff00" stroke-width="0.8"/>
<line x1="728.36" y1="228.25" x2="726.6" y2="232.52" stroke="#00ff00" stroke-width="0.8"/>
<circle cx="696.4" cy="261.52" r="3.5" stroke="#000000" stroke-width="1.5" fill="#fff"/>
<line x1="694.11" y1="255.98" x2="698.7" y2="267.07" stroke="#00ff00" stroke-width="0.8"/>
<line x1="698.52" y1="260.6" x2="694.25" y2="262.36" stroke="#00ff00" stroke-width="0.8"/>
<circle cx="652.4" cy="261.52" r="3.5" stroke="#000000" stroke-width="1.5" fill="#fff"/>
<line x1="654.69" y1="255.98" x2="650.1" y2="267.07" stroke="#00ff00" stroke-width="0.8"/>
<line x1="654.55" y1="262.36" x2="650.28" y2="260.6" stroke="#00ff00" stroke-width="0.8"/>
<circle cx="621.28" cy="230.4" r="3.5" stroke="#000000" stroke-width="1.5" fill="#fff"/>
<line x1="626.82" y1="228.11" x2="615.73" y2="232.7" stroke="#00ff00" stroke-width="0.8"/>
<line x1="622.2" y1="232.52" x2="620.44" y2="228.25" stroke="#00ff00" stroke-width="0.8"/>
<circle cx="621.28" cy="186.4" r="3.5" stroke="#000000" stroke-width="1.5" fill="#fff"/>
<line x1="626.82" y1="188.69" x2="615.73" y2="184.1" stroke="#00ff00" stroke-width="0.8"/>
<line x1="620.44" y1="188.55" x2="622.2" y2="184.28" stroke="#00ff00" stroke-width="0.8"/>
<circle cx="652.4" cy="155.28" r="3.5" stroke="#000000" stroke-width="1.5" fill="#fff"/>
<line x1="654.69" y1="160.82" x2="650.1" y2="149.73" stroke="#00ff00" stroke-width="0.8"/>
<line x1="650.28" y1="156.2" x2="654.55" y2="154.44" stroke="#00ff00" stroke-width="0.8"/>
<rect x="670.5" y="192.8" width="7.8" height="1.67" fill="#fff" stroke="none"/>
<polyline points="670.5,195.27 670.5,192.8 678.3,192.8 678.3,195.27" stroke="#000000" stroke-width="1.1" fill="none"/>
<rect x="670.5" y="222.33" width="7.8" height="1.77" fill="#fff" stroke="none"/>
<polyline points="670.5,221.53 670.5,224.1 678.3,224.1 678.3,221.53" stroke="#000000" stroke-width="1.1" fill="none"/>
<line x1="593" y1="208.4" x2="655" y2="208.4" stroke="#00ff00" stroke-width="1"/>
<line x1="661" y1="208.4" x2="776.3" y2="208.4" stroke="#00ff00" stroke-width="1"/>
<line x1="674.4" y1="123.7" x2="674.4" y2="178.3" stroke="#00ff00" stroke-width="1"/>
<line x1="674.4" y1="188" x2="674.4" y2="287.4" stroke="#00ff00" stroke-width="1" stroke-dasharray="9 1.5 1.5 1.5"/>
<line x1="598.7" y1="114.5" x2="729.2" y2="276.3" stroke="#ff0000" stroke-width="1"/>
<line x1="688.8" y1="188.4" x2="610.1" y2="294.8" stroke="#ff0000" stroke-width="1"/>
<line x1="689.4" y1="249.6" x2="728" y2="316.9" stroke="#ff0000" stroke-width="1"/>
<text transform="translate(598.7,114.5) rotate(51.1)" font-family="'Liberation Sans','Noto Sans CJK SC',sans-serif" fill="#ff0000"><tspan x="-2.2" y="-7.25" rotate="45" font-size="13.5">Φ</tspan><tspan x="11" y="-0.8" rotate="0" font-size="17.4" textLength="22.6" lengthAdjust="spacingAndGlyphs" stroke="#ff0000" stroke-width="0.25">D0</tspan></text>
<text transform="translate(610.1,294.8) rotate(-53.5)" font-family="'Liberation Sans','Noto Sans CJK SC',sans-serif" fill="#ff0000"><tspan x="-2.4" y="-9.25" rotate="45" font-size="13.5">Φ</tspan><tspan x="11.2" y="-0.9" rotate="0" font-size="17.4" textLength="10.2" lengthAdjust="spacingAndGlyphs" stroke="#ff0000" stroke-width="0.25">d</tspan></text>
<text transform="translate(689.4,249.6) rotate(60.2)" font-family="'Liberation Sans','Noto Sans CJK SC',sans-serif" fill="#ff0000"><tspan x="45.5" y="-0.8" rotate="0" font-size="15.5" textLength="30.5" lengthAdjust="spacingAndGlyphs" stroke="#ff0000" stroke-width="0.25">N-M</tspan></text>
<line x1="670.3" y1="222" x2="670.3" y2="297.8" stroke="#ff0000" stroke-width="1" stroke-dasharray="4 1.2"/>
<line x1="677.8" y1="222" x2="677.8" y2="297.8" stroke="#ff0000" stroke-width="1" stroke-dasharray="4 1.2"/>
<line x1="649.3" y1="297.8" x2="688.8" y2="297.8" stroke="#ff0000" stroke-width="1"/>
<polygon points="670.3,297.8 665.7,298.6 665.7,297" fill="#ff0000" stroke="#ff0000" stroke-width="0.3"/>
<polygon points="677.8,297.8 682.4,297 682.4,298.6" fill="#ff0000" stroke="#ff0000" stroke-width="0.3"/>
<text transform="translate(654.7,290.5) rotate(0)" x="-4.75" y="0" textLength="9.5" lengthAdjust="spacingAndGlyphs" font-family="'Liberation Serif','Noto Serif CJK SC',serif" font-size="18.5" fill="#ff0000" dominant-baseline="central" font-weight="normal" font-style="normal" stroke="#fff" stroke-width="0.18">b</text>
<line x1="776.3" y1="208.2" x2="861.5" y2="208.2" stroke="#ff0000" stroke-width="1"/>
<line x1="841.6" y1="114" x2="861.5" y2="114" stroke="#ff0000" stroke-width="1"/>
<line x1="860.7" y1="114" x2="860.7" y2="208.2" stroke="#ff0000" stroke-width="1"/>
<polygon points="860.7,114 861.5,118.6 859.9,118.6" fill="#ff0000" stroke="#ff0000" stroke-width="0.3"/>
<polygon points="860.7,208.2 859.9,203.6 861.5,203.6" fill="#ff0000" stroke="#ff0000" stroke-width="0.3"/>
<text transform="translate(852.2,161.2) rotate(-90)" x="-9.5" y="0" textLength="19" lengthAdjust="spacingAndGlyphs" font-family="'Liberation Serif','Noto Serif CJK SC',serif" font-size="18.5" fill="#ff0000" dominant-baseline="central" font-weight="normal" font-style="normal" stroke="#fff" stroke-width="0.18">H3</text>
<g transform="translate(874,0) scale(-1,1)">
<line x1="105.7" y1="436.3" x2="165.5" y2="436.3" stroke="#000000" stroke-width="1.3"/>
<line x1="105.7" y1="438.6" x2="165.5" y2="438.6" stroke="#000000" stroke-width="1"/>
<polyline points="106.4,436.1 106.4,449.6" stroke="#000000" stroke-width="1.2" fill="none"/>
<line x1="106.4" y1="449.6" x2="150.6" y2="449.6" stroke="#000000" stroke-width="1"/>
<polyline points="108.2,449.6 108.2,563.8" stroke="#000000" stroke-width="1.1" fill="none"/>
<polyline points="111.3,449.6 111.3,563.8" stroke="#000000" stroke-width="1" fill="none"/>
<polyline points="119.7,449.6 119.7,462.3" stroke="#000000" stroke-width="1" fill="none"/>
<path d="M111.3,462.3 H128 Q130.5,462 131.3,460.8" stroke="#000000" stroke-width="1" fill="none"/>
<path d="M119.7,450 Q135,463.8 150.6,450" stroke="#000000" stroke-width="1" fill="none"/>
<polyline points="119.7,563.8 119.7,550.4" stroke="#000000" stroke-width="1" fill="none"/>
<path d="M111.3,550.4 H128 Q130.5,550.7 131.3,551.9" stroke="#000000" stroke-width="1" fill="none"/>
<path d="M119.7,563.5 Q135,549.8 150.6,563.5" stroke="#000000" stroke-width="1" fill="none"/>
<polyline points="152.5,563.8 106.4,563.8 106.4,575.4 166,575.4" stroke="#000000" stroke-width="1.2" fill="none"/>
<line x1="46.4" y1="341.4" x2="46.4" y2="492.4" stroke="#000000" stroke-width="1"/>
<polyline points="53.5,351.5 62.7,401.7" stroke="#000000" stroke-width="1" fill="none"/>
<polyline points="59.3,351.5 70.9,401.2" stroke="#000000" stroke-width="1" fill="none"/>
<polyline points="62.9,427.5 53.3,477.7" stroke="#000000" stroke-width="1" fill="none"/>
<polyline points="71.5,427.5 59.9,477.7" stroke="#000000" stroke-width="1" fill="none"/>
<polyline points="66.5,454.4 62,477.7" stroke="#000000" stroke-width="0.8" fill="none"/>
<path d="M62.4,336.7 H52.7 Q48.4,336.7 48.4,341.2 V345 Q48.4,349.5 52.7,349.5 H62.4" stroke="#000000" stroke-width="3.7" fill="none" stroke-linecap="round"/>
<path d="M62.4,336.7 H52.7 Q48.4,336.7 48.4,341.2 V345 Q48.4,349.5 52.7,349.5 H62.4" stroke="#35f0f5" stroke-width="1.9" fill="none" stroke-linecap="round"/>
<path d="M59.3,402.9 Q59.3,401.7 60.5,401.5 Q68,403.4 76.5,401.5 V427 Q68,425.2 60.5,427 Q59.3,426.8 59.3,425.6 Z" stroke="#000000" stroke-width="1.1" fill="#fff"/>
<line x1="60.5" y1="402.4" x2="60.5" y2="426.4" stroke="#000000" stroke-width="0.8"/>
<rect x="56.1" y="410.4" width="3.2" height="7.8" rx="0" stroke="#000000" stroke-width="1" fill="#fff"/>
<line x1="56.1" y1="413.1" x2="59.3" y2="413.1" stroke="#000000" stroke-width="0.6"/>
<line x1="56.1" y1="415.7" x2="59.3" y2="415.7" stroke="#000000" stroke-width="0.6"/>
<line x1="76.5" y1="406.8" x2="89" y2="406.8" stroke="#000000" stroke-width="1"/>
<line x1="76.5" y1="421.8" x2="89" y2="421.8" stroke="#000000" stroke-width="1"/>
<path d="M63.5,477.3 H53 Q46.2,477.9 46.2,485.4 Q46.2,493.8 53,493.8 H63.5 Z" stroke="#000000" stroke-width="1" fill="#fff"/>
<polygon points="45.8,481.7 20.7,480.4 20.2,491.2 45.8,489.8" stroke="#000000" stroke-width="1" fill="#fff"/>
<line x1="19.7" y1="485.7" x2="50.7" y2="485.7" stroke="#00ff00" stroke-width="1" stroke-dasharray="8 1.5 1.5 1.5"/>
<rect x="89.3" y="392.7" width="7" height="42.7" rx="0" stroke="#000000" stroke-width="1.2" fill="#fff"/>
<rect x="85" y="396.4" width="4.3" height="6.6" rx="0" stroke="#000000" stroke-width="1" fill="#fff"/>
<line x1="85" y1="398.4" x2="89.3" y2="398.4" stroke="#000000" stroke-width="0.6"/>
<line x1="85" y1="401" x2="89.3" y2="401" stroke="#000000" stroke-width="0.6"/>
<line x1="86" y1="399.7" x2="100" y2="399.7" stroke="#00ff00" stroke-width="1"/>
<rect x="85" y="425.6" width="4.3" height="6.6" rx="0" stroke="#000000" stroke-width="1" fill="#fff"/>
<line x1="85" y1="427.6" x2="89.3" y2="427.6" stroke="#000000" stroke-width="0.6"/>
<line x1="85" y1="430.2" x2="89.3" y2="430.2" stroke="#000000" stroke-width="0.6"/>
<line x1="86" y1="428.9" x2="100" y2="428.9" stroke="#00ff00" stroke-width="1"/>
<path d="M97.3,392.1 V433.4 Q97.3,435.4 99.3,435.4 H171.6 Q173.6,435.4 173.6,433.4 V392.1" stroke="#000000" stroke-width="1.4" fill="#fff"/>
<rect x="97.3" y="385.3" width="76.3" height="6.8" rx="0" stroke="#000000" stroke-width="1.4" fill="#fff"/>
<rect x="102.2" y="383" width="4.4" height="2.3" rx="0" stroke="#000000" stroke-width="1" fill="#333"/>
<line x1="104.4" y1="383.4" x2="104.4" y2="397.4" stroke="#00ff00" stroke-width="0.8"/>
<rect x="164.4" y="383" width="4.4" height="2.3" rx="0" stroke="#000000" stroke-width="1" fill="#333"/>
<line x1="166.6" y1="383.4" x2="166.6" y2="397.4" stroke="#00ff00" stroke-width="0.8"/>
<line x1="166.6" y1="383.4" x2="166.6" y2="398.4" stroke="#ffff00" stroke-width="2"/>
<line x1="166.6" y1="383.4" x2="166.6" y2="399.4" stroke="#00ff00" stroke-width="0.5" stroke-dasharray="2 1"/>
</g>
<line x1="698" y1="414.4" x2="834.5" y2="414.4" stroke="#00ff00" stroke-width="1" stroke-dasharray="8 1.5 1.5 1.5"/>
<circle cx="667.3" cy="507.4" r="68" stroke="#000000" stroke-width="1.1" fill="#fff"/>
<path d="M616.42,447.62 A78.5,78.5 0 1 1 616.42,567.18" stroke="#000000" stroke-width="1.1" fill="none"/>
<path d="M610.57,548.92 A70.3,70.3 0 0 1 610.57,465.88" stroke="#000000" stroke-width="1" fill="none"/>
<line x1="616.2" y1="446.7" x2="616.2" y2="468" stroke="#000000" stroke-width="1.6"/>
<line x1="615.8" y1="547" x2="615.8" y2="566.4" stroke="#000000" stroke-width="1.6"/>
<rect x="609.63" y="455.7" width="6.37" height="10.6" rx="0" stroke="#000000" stroke-width="1" fill="#fff"/>
<rect x="606.9" y="458" width="2.73" height="6" rx="0" stroke="#000000" stroke-width="1" fill="#fff"/>
<line x1="609.63" y1="458.35" x2="616" y2="458.35" stroke="#000000" stroke-width="0.7"/>
<line x1="609.63" y1="463.65" x2="616" y2="463.65" stroke="#000000" stroke-width="0.7"/>
<rect x="609.57" y="548.1" width="6.23" height="10.6" rx="0" stroke="#000000" stroke-width="1" fill="#fff"/>
<rect x="606.9" y="550.4" width="2.67" height="6" rx="0" stroke="#000000" stroke-width="1" fill="#fff"/>
<line x1="609.57" y1="550.75" x2="615.8" y2="550.75" stroke="#000000" stroke-width="0.7"/>
<line x1="609.57" y1="556.05" x2="615.8" y2="556.05" stroke="#000000" stroke-width="0.7"/>
<line x1="603" y1="461.8" x2="630" y2="461.8" stroke="#00ff00" stroke-width="1"/>
<line x1="603" y1="552.4" x2="630" y2="552.4" stroke="#00ff00" stroke-width="1"/>
<line x1="738.4" y1="377" x2="738.4" y2="582.3" stroke="#00ff00" stroke-width="1" stroke-dasharray="22 2 2 2"/>
<circle cx="667.3" cy="507.4" r="68" stroke="#000000" stroke-width="1.05" fill="none"/>
<circle cx="667.3" cy="507.4" r="45.6" stroke="#000000" stroke-width="1.05" fill="none"/>
<circle cx="667.3" cy="507.4" r="25.1" stroke="#000000" stroke-width="1.05" fill="none"/>
<circle cx="667.3" cy="507.4" r="14" stroke="#000000" stroke-width="1.05" fill="none"/>
<circle cx="667.3" cy="507.4" r="57.3" stroke="#00ff00" stroke-width="1" fill="none" stroke-dasharray="20 1.5 1.5 1.5"/>
<circle cx="689.23" cy="454.46" r="3.5" stroke="#000000" stroke-width="1.5" fill="#fff"/>
<line x1="686.93" y1="460" x2="691.52" y2="448.92" stroke="#00ff00" stroke-width="0.8"/>
<line x1="687.09" y1="453.62" x2="691.33" y2="455.38" stroke="#00ff00" stroke-width="0.8"/>
<circle cx="720.24" cy="485.47" r="3.5" stroke="#000000" stroke-width="1.5" fill="#fff"/>
<line x1="714.7" y1="487.77" x2="725.78" y2="483.18" stroke="#00ff00" stroke-width="0.8"/>
<line x1="719.32" y1="483.37" x2="721.08" y2="487.61" stroke="#00ff00" stroke-width="0.8"/>
<circle cx="720.24" cy="529.33" r="3.5" stroke="#000000" stroke-width="1.5" fill="#fff"/>
<line x1="714.7" y1="527.03" x2="725.78" y2="531.62" stroke="#00ff00" stroke-width="0.8"/>
<line x1="721.08" y1="527.19" x2="719.32" y2="531.43" stroke="#00ff00" stroke-width="0.8"/>
<circle cx="689.23" cy="560.34" r="3.5" stroke="#000000" stroke-width="1.5" fill="#fff"/>
<line x1="686.93" y1="554.8" x2="691.52" y2="565.88" stroke="#00ff00" stroke-width="0.8"/>
<line x1="691.33" y1="559.42" x2="687.09" y2="561.18" stroke="#00ff00" stroke-width="0.8"/>
<circle cx="645.37" cy="560.34" r="3.5" stroke="#000000" stroke-width="1.5" fill="#fff"/>
<line x1="647.67" y1="554.8" x2="643.08" y2="565.88" stroke="#00ff00" stroke-width="0.8"/>
<line x1="647.51" y1="561.18" x2="643.27" y2="559.42" stroke="#00ff00" stroke-width="0.8"/>
<circle cx="614.36" cy="529.33" r="3.5" stroke="#000000" stroke-width="1.5" fill="#fff"/>
<line x1="619.9" y1="527.03" x2="608.82" y2="531.62" stroke="#00ff00" stroke-width="0.8"/>
<line x1="615.28" y1="531.43" x2="613.52" y2="527.19" stroke="#00ff00" stroke-width="0.8"/>
<circle cx="614.36" cy="485.47" r="3.5" stroke="#000000" stroke-width="1.5" fill="#fff"/>
<line x1="619.9" y1="487.77" x2="608.82" y2="483.18" stroke="#00ff00" stroke-width="0.8"/>
<line x1="613.52" y1="487.61" x2="615.28" y2="483.37" stroke="#00ff00" stroke-width="0.8"/>
<circle cx="645.37" cy="454.46" r="3.5" stroke="#000000" stroke-width="1.5" fill="#fff"/>
<line x1="647.67" y1="460" x2="643.08" y2="448.92" stroke="#00ff00" stroke-width="0.8"/>
<line x1="643.27" y1="455.38" x2="647.51" y2="453.62" stroke="#00ff00" stroke-width="0.8"/>
<rect x="663.3" y="491.4" width="8" height="1.78" fill="#fff" stroke="none"/>
<polyline points="663.3,493.98 663.3,491.4 671.3,491.4 671.3,493.98" stroke="#000000" stroke-width="1.1" fill="none"/>
<rect x="663.3" y="521.62" width="8" height="1.38" fill="#fff" stroke="none"/>
<polyline points="663.3,520.82 663.3,523 671.3,523 671.3,520.82" stroke="#000000" stroke-width="1.1" fill="none"/>
<line x1="593.5" y1="507.4" x2="648" y2="507.4" stroke="#00ff00" stroke-width="1"/>
<line x1="654" y1="507.4" x2="768.7" y2="507.4" stroke="#00ff00" stroke-width="1"/>
<line x1="667.3" y1="428.7" x2="667.3" y2="585.4" stroke="#00ff00" stroke-width="1"/>
<line x1="592" y1="413.7" x2="722.6" y2="574.9" stroke="#ff0000" stroke-width="1"/>
<line x1="682" y1="487.3" x2="606.1" y2="592.4" stroke="#ff0000" stroke-width="1"/>
<line x1="681.4" y1="549.6" x2="726.2" y2="611.5" stroke="#ff0000" stroke-width="1"/>
<text transform="translate(592,413.7) rotate(51)" font-family="'Liberation Sans','Noto Sans CJK SC',sans-serif" fill="#ff0000"><tspan x="-2.2" y="-7.25" rotate="45" font-size="13.5">Φ</tspan><tspan x="11" y="-0.8" rotate="0" font-size="17.4" textLength="22.6" lengthAdjust="spacingAndGlyphs" stroke="#ff0000" stroke-width="0.25">D0</tspan></text>
<text transform="translate(606.1,592.4) rotate(-54.2)" font-family="'Liberation Sans','Noto Sans CJK SC',sans-serif" fill="#ff0000"><tspan x="-2.4" y="-9.25" rotate="45" font-size="13.5">Φ</tspan><tspan x="11.2" y="-0.9" rotate="0" font-size="17.4" textLength="10.2" lengthAdjust="spacingAndGlyphs" stroke="#ff0000" stroke-width="0.25">d</tspan></text>
<text transform="translate(681.4,549.6) rotate(54.1)" font-family="'Liberation Sans','Noto Sans CJK SC',sans-serif" fill="#ff0000"><tspan x="43.4" y="-0.8" rotate="0" font-size="15.5" textLength="32" lengthAdjust="spacingAndGlyphs" stroke="#ff0000" stroke-width="0.25">N-M</tspan></text>
<line x1="663.3" y1="522" x2="663.3" y2="600" stroke="#ff0000" stroke-width="1" stroke-dasharray="4 1.2"/>
<line x1="671.3" y1="522" x2="671.3" y2="600" stroke="#ff0000" stroke-width="1" stroke-dasharray="4 1.2"/>
<line x1="643.2" y1="600" x2="682" y2="600" stroke="#ff0000" stroke-width="1"/>
<polygon points="663.3,600 658.7,600.8 658.7,599.2" fill="#ff0000" stroke="#ff0000" stroke-width="0.3"/>
<polygon points="671.3,600 675.9,599.2 675.9,600.8" fill="#ff0000" stroke="#ff0000" stroke-width="0.3"/>
<text transform="translate(647.4,592.5) rotate(0)" x="-4.75" y="0" textLength="9.5" lengthAdjust="spacingAndGlyphs" font-family="'Liberation Serif','Noto Serif CJK SC',serif" font-size="18.5" fill="#ff0000" dominant-baseline="central" font-weight="normal" font-style="normal" stroke="#fff" stroke-width="0.18">b</text>
<line x1="768.7" y1="507.3" x2="859.3" y2="507.3" stroke="#ff0000" stroke-width="1"/>
<line x1="834.5" y1="414.4" x2="859.3" y2="414.4" stroke="#ff0000" stroke-width="1"/>
<line x1="858.4" y1="414.4" x2="858.4" y2="507.3" stroke="#ff0000" stroke-width="1"/>
<polygon points="858.4,414.4 859.2,419 857.6,419" fill="#ff0000" stroke="#ff0000" stroke-width="0.3"/>
<polygon points="858.4,507.3 857.6,502.7 859.2,502.7" fill="#ff0000" stroke="#ff0000" stroke-width="0.3"/>
<text transform="translate(850,460.8) rotate(-90)" x="-9.5" y="0" textLength="19" lengthAdjust="spacingAndGlyphs" font-family="'Liberation Serif','Noto Serif CJK SC',serif" font-size="18.5" fill="#ff0000" dominant-baseline="central" font-weight="normal" font-style="normal" stroke="#fff" stroke-width="0.18">H3</text>
<text font-family="'Liberation Serif','Noto Serif CJK SC',serif" fill="#222"><tspan x="313.9" y="74.3" font-size="20" textLength="57.5" lengthAdjust="spacingAndGlyphs">QDX3-S</tspan><tspan x="372.6" y="74.6" font-size="19" textLength="132.5" lengthAdjust="spacing">型双级手动系列</tspan></text>
<text font-family="'Liberation Serif','Noto Serif CJK SC',serif" fill="#222"><tspan x="313.9" y="394.3" font-size="20" textLength="28.5" lengthAdjust="spacingAndGlyphs">C-S</tspan><tspan x="343.4" y="394.6" font-size="19" textLength="132.5" lengthAdjust="spacing">型双级手动系列</tspan></text>
</svg></body></html>
